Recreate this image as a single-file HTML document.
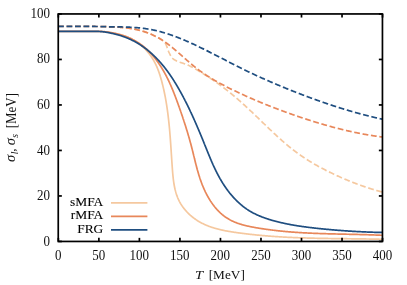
<!DOCTYPE html><html><head><meta charset="utf-8"><style>
html,body{margin:0;padding:0;background:#fff;}
#w{position:relative;width:407px;height:285px;overflow:hidden;background:#fff;font-family:"Liberation Serif",serif;font-size:13px;color:#111;}
.t{position:absolute;white-space:nowrap;line-height:1;}
#txt{position:absolute;left:0;top:0;width:407px;height:285px;will-change:transform;}
.s{display:inline-block;transform:scaleY(1.12);transform-origin:50% 50%;}
.yt{text-align:right;width:40px;}
.xt{text-align:center;width:40px;}
</style></head><body><div id="w">
<svg width="407" height="285" viewBox="0 0 407 285" style="position:absolute;left:0;top:0">
<defs><clipPath id="c"><rect x="58.25" y="13.95" width="324.2" height="227.5"/></clipPath></defs>
<g clip-path="url(#c)" fill="none" stroke-width="1.7" stroke-linejoin="round">
<path d="M105.27,31.78 L105.28,31.78 L105.78,31.84 L106.27,31.90 L106.77,31.96 L107.27,32.03 L107.77,32.10 L108.27,32.18 L108.77,32.25 L109.26,32.33 L109.76,32.42 L110.26,32.50 L110.76,32.59 L111.25,32.67 L111.75,32.76 L112.24,32.84 L112.74,32.93 L113.23,33.02 L113.73,33.11 L114.22,33.20 L114.71,33.30 L115.21,33.40 L115.70,33.51 L116.19,33.61 L116.68,33.72 L117.17,33.84 L117.65,33.95 L118.14,34.07 L118.63,34.20 L119.11,34.32 L119.60,34.45 L120.08,34.58 L120.56,34.72 L121.04,34.86 L121.52,35.00 L122.00,35.15 L122.48,35.30 L122.95,35.45 L123.43,35.61 L123.90,35.77 L124.37,35.93 L124.84,36.10 L125.31,36.27 L125.78,36.44 L126.24,36.62 L126.70,36.80 L127.17,36.99 L127.63,37.18 L128.09,37.37 L128.54,37.57 L129.00,37.77 L129.45,37.97 L129.90,38.18 L130.35,38.39 L130.80,38.61 L131.24,38.83 L131.69,39.06 L132.13,39.29 L132.57,39.52 L133.00,39.76 L133.44,40.00 L133.87,40.24 L134.30,40.49 L134.73,40.75 L135.15,41.01 L135.58,41.27 L136.00,41.54 L136.41,41.81 L136.83,42.09 L137.24,42.37 L137.65,42.65 L138.06,42.94 L138.46,43.24 L138.87,43.54 L139.27,43.84 L139.66,44.15 L140.06,44.46 L140.45,44.77 L140.84,45.09 L141.22,45.42 L141.60,45.74 L141.98,46.07 L142.36,46.41 L142.73,46.75 L143.10,47.09 L143.47,47.44 L143.84,47.79 L144.20,48.14 L144.56,48.50 L144.91,48.86 L145.26,49.22 L145.61,49.59 L145.96,49.96 L146.30,50.33 L146.64,50.71 L146.97,51.08 L147.30,51.47 L147.63,51.85 L147.96,52.24 L148.28,52.63 L148.60,53.02 L148.91,53.42 L149.22,53.82 L149.53,54.22 L149.83,54.62 L150.13,55.03 L150.43,55.44 L150.72,55.85 L151.01,56.26 L151.30,56.68 L151.58,57.09 L151.86,57.51 L152.13,57.94 L152.40,58.36 L152.66,58.79 L152.93,59.21 L153.18,59.64 L153.44,60.07 L153.69,60.50 L153.93,60.94 L154.17,61.37 L154.41,61.81 L154.65,62.25 L154.88,62.69 L155.10,63.13 L155.33,63.58 L155.55,64.02 L155.76,64.47 L155.97,64.92 L156.18,65.36 L156.39,65.82 L156.59,66.27 L156.79,66.72 L156.99,67.17 L157.18,67.63 L157.37,68.09 L157.56,68.55 L157.74,69.01 L157.92,69.47 L158.10,69.93 L158.28,70.39 L158.45,70.85 L158.62,71.32 L158.79,71.79 L158.96,72.25 L159.12,72.72 L159.28,73.19 L159.44,73.66 L159.59,74.13 L159.75,74.60 L159.90,75.08 L160.05,75.55 L160.20,76.02 L160.34,76.50 L160.49,76.97 L160.63,77.45 L160.77,77.93 L160.91,78.41 L161.05,78.89 L161.18,79.37 L161.32,79.85 L161.45,80.33 L161.58,80.81 L161.71,81.29 L161.84,81.77 L161.96,82.25 L162.09,82.74 L162.21,83.22 L162.34,83.71 L162.46,84.19 L162.58,84.68 L162.70,85.16 L162.82,85.65 L162.94,86.13 L163.05,86.62 L163.17,87.11 L163.28,87.60 L163.40,88.08 L163.51,88.57 L163.62,89.06 L163.73,89.55 L163.84,90.04 L163.94,90.53 L164.05,91.02 L164.16,91.51 L164.26,92.00 L164.36,92.50 L164.46,92.99 L164.57,93.48 L164.67,93.97 L164.76,94.46 L164.86,94.96 L164.96,95.45 L165.05,95.94 L165.15,96.44 L165.24,96.93 L165.34,97.43 L165.43,97.92 L165.52,98.42 L165.61,98.91 L165.70,99.41 L165.78,99.90 L165.87,100.40 L165.96,100.90 L166.04,101.39 L166.13,101.89 L166.21,102.38 L166.29,102.88 L166.37,103.38 L166.45,103.88 L166.53,104.37 L166.61,104.87 L166.69,105.37 L166.77,105.87 L166.84,106.36 L166.92,106.86 L166.99,107.36 L167.07,107.86 L167.14,108.36 L167.21,108.85 L167.28,109.35 L167.35,109.85 L167.42,110.35 L167.49,110.85 L167.56,111.35 L167.62,111.85 L167.69,112.34 L167.76,112.84 L167.82,113.34 L167.89,113.84 L167.95,114.34 L168.01,114.84 L168.07,115.34 L168.13,115.84 L168.20,116.33 L168.25,116.83 L168.31,117.33 L168.37,117.83 L168.43,118.33 L168.49,118.83 L168.54,119.32 L168.60,119.82 L168.65,120.32 L168.71,120.82 L168.76,121.32 L168.82,121.81 L168.87,122.31 L168.92,122.81 L168.97,123.31 L169.02,123.80 L169.07,124.30 L169.12,124.80 L169.17,125.30 L169.22,125.79 L169.27,126.29 L169.31,126.78 L169.36,127.28 L169.41,127.78 L169.45,128.27 L169.50,128.77 L169.54,129.26 L169.59,129.76 L169.63,130.25 L169.67,130.75 L169.72,131.24 L169.76,131.74 L169.80,132.23 L169.84,132.73 L169.88,133.22 L169.92,133.72 L169.96,134.21 L170.00,134.70 L170.04,135.20 L170.08,135.69 L170.12,136.19 L170.16,136.68 L170.20,137.17 L170.23,137.67 L170.27,138.16 L170.31,138.66 L170.35,139.15 L170.38,139.64 L170.42,140.14 L170.45,140.63 L170.49,141.13 L170.53,141.62 L170.56,142.11 L170.60,142.61 L170.63,143.10 L170.66,143.60 L170.70,144.09 L170.73,144.58 L170.77,145.08 L170.80,145.57 L170.83,146.07 L170.87,146.56 L170.90,147.06 L170.93,147.55 L170.97,148.05 L171.00,148.54 L171.03,149.04 L171.07,149.53 L171.10,150.03 L171.13,150.53 L171.16,151.02 L171.20,151.52 L171.23,152.01 L171.26,152.51 L171.29,153.01 L171.33,153.51 L171.36,154.00 L171.39,154.50 L171.42,155.00 L171.46,155.50 L171.49,155.99 L171.52,156.49 L171.55,156.99 L171.59,157.49 L171.62,157.99 L171.65,158.49 L171.69,158.99 L171.72,159.49 L171.75,159.99 L171.79,160.49 L171.82,160.99 L171.85,161.49 L171.89,162.00 L171.92,162.50 L171.95,163.00 L171.99,163.50 L172.02,164.01 L172.06,164.51 L172.09,165.01 L172.13,165.52 L172.16,166.02 L172.20,166.53 L172.24,167.04 L172.27,167.54 L172.31,168.05 L172.35,168.55 L172.38,169.06 L172.42,169.57 L172.46,170.08 L172.50,170.59 L172.54,171.09 L172.58,171.60 L172.62,172.11 L172.66,172.62 L172.70,173.13 L172.75,173.64 L172.79,174.15 L172.84,174.66 L172.89,175.17 L172.94,175.67 L172.99,176.18 L173.04,176.69 L173.09,177.20 L173.15,177.71 L173.20,178.21 L173.26,178.72 L173.32,179.23 L173.38,179.73 L173.45,180.24 L173.51,180.74 L173.58,181.24 L173.65,181.75 L173.72,182.25 L173.80,182.75 L173.88,183.25 L173.96,183.75 L174.04,184.25 L174.12,184.75 L174.21,185.25 L174.30,185.74 L174.40,186.24 L174.49,186.73 L174.59,187.23 L174.69,187.72 L174.80,188.21 L174.91,188.70 L175.02,189.19 L175.14,189.67 L175.26,190.16 L175.38,190.64 L175.50,191.13 L175.63,191.61 L175.77,192.09 L175.90,192.57 L176.05,193.04 L176.19,193.52 L176.34,193.99 L176.49,194.46 L176.65,194.93 L176.81,195.40 L176.98,195.86 L177.15,196.33 L177.32,196.79 L177.50,197.25 L177.69,197.70 L177.87,198.16 L178.07,198.61 L178.27,199.06 L178.47,199.51 L178.68,199.96 L178.89,200.40 L179.11,200.85 L179.33,201.29 L179.56,201.72 L179.79,202.16 L180.03,202.59 L180.27,203.02 L180.52,203.45 L180.78,203.87 L181.03,204.29 L181.30,204.71 L181.57,205.13 L181.84,205.54 L182.11,205.95 L182.40,206.36 L182.68,206.77 L182.97,207.17 L183.27,207.57 L183.57,207.97 L183.87,208.36 L184.18,208.75 L184.49,209.14 L184.81,209.53 L185.13,209.91 L185.45,210.29 L185.78,210.67 L186.11,211.04 L186.45,211.41 L186.78,211.78 L187.13,212.14 L187.47,212.51 L187.82,212.86 L188.18,213.22 L188.54,213.57 L188.90,213.92 L189.26,214.26 L189.63,214.60 L190.00,214.94 L190.37,215.28 L190.75,215.61 L191.13,215.94 L191.51,216.26 L191.90,216.58 L192.29,216.90 L192.68,217.21 L193.07,217.52 L193.47,217.83 L193.87,218.13 L194.27,218.43 L194.68,218.73 L195.09,219.02 L195.50,219.31 L195.91,219.59 L196.32,219.87 L196.74,220.15 L197.16,220.42 L197.58,220.69 L198.00,220.96 L198.43,221.22 L198.86,221.47 L199.28,221.73 L199.72,221.98 L200.15,222.22 L200.58,222.46 L201.02,222.70 L201.46,222.93 L201.90,223.16 L202.34,223.39 L202.79,223.61 L203.23,223.83 L203.68,224.05 L204.13,224.26 L204.58,224.47 L205.03,224.67 L205.48,224.87 L205.94,225.07 L206.39,225.27 L206.85,225.46 L207.31,225.65 L207.77,225.83 L208.23,226.01 L208.70,226.19 L209.16,226.37 L209.63,226.54 L210.10,226.71 L210.57,226.87 L211.04,227.04 L211.51,227.20 L211.98,227.36 L212.45,227.51 L212.93,227.66 L213.41,227.81 L213.88,227.96 L214.36,228.11 L214.84,228.25 L215.32,228.39 L215.80,228.52 L216.29,228.66 L216.77,228.79 L217.25,228.92 L217.74,229.05 L218.22,229.17 L218.71,229.30 L219.20,229.42 L219.69,229.53 L220.18,229.65 L220.67,229.77 L221.16,229.88 L221.65,229.99 L222.14,230.10 L222.63,230.20 L223.13,230.31 L223.62,230.41 L224.12,230.51 L224.61,230.61 L225.11,230.71 L225.60,230.80 L226.10,230.90 L226.60,230.99 L227.10,231.08 L227.59,231.17 L228.09,231.26 L228.59,231.35 L229.09,231.43 L229.59,231.52 L230.09,231.60 L230.59,231.68 L231.09,231.77 L231.59,231.84 L232.09,231.92 L232.59,232.00 L233.09,232.08 L233.59,232.15 L234.10,232.23 L234.60,232.30 L235.10,232.38 L235.60,232.45 L236.10,232.52 L236.60,232.59 L237.10,232.66 L237.60,232.73 L238.10,232.80 L238.60,232.87 L239.10,232.93 L239.61,233.00 L240.11,233.07 L240.61,233.13 L241.11,233.20 L241.61,233.27 L242.11,233.33 L242.60,233.39 L243.10,233.46 L243.60,233.52 L244.10,233.58 L244.60,233.64 L245.10,233.71 L245.60,233.77 L246.10,233.83 L246.60,233.89 L247.10,233.95 L247.60,234.01 L248.09,234.06 L248.59,234.12 L249.09,234.18 L249.59,234.24 L250.09,234.29 L250.59,234.35 L251.08,234.40 L251.58,234.46 L252.08,234.51 L252.58,234.57 L253.07,234.62 L253.57,234.67 L254.07,234.72 L254.57,234.78 L255.06,234.83 L255.56,234.88 L256.06,234.93 L256.56,234.98 L257.05,235.03 L257.55,235.08 L258.05,235.12 L258.54,235.17 L259.04,235.22 L259.54,235.27 L260.04,235.31 L260.53,235.36 L261.03,235.41 L261.53,235.45 L262.02,235.50 L262.52,235.54 L263.02,235.58 L263.51,235.63 L264.01,235.67 L264.51,235.71 L265.00,235.76 L265.50,235.80 L265.99,235.84 L266.49,235.88 L266.99,235.92 L267.48,235.96 L267.98,236.00 L268.48,236.04 L268.97,236.08 L269.47,236.12 L269.97,236.16 L270.46,236.19 L270.96,236.23 L271.45,236.27 L271.95,236.30 L272.45,236.34 L272.94,236.38 L273.44,236.41 L273.94,236.45 L274.43,236.48 L274.93,236.51 L275.42,236.55 L275.92,236.58 L276.42,236.61 L276.91,236.65 L277.41,236.68 L277.91,236.71 L278.40,236.74 L278.90,236.77 L279.40,236.80 L279.89,236.84 L280.39,236.87 L280.89,236.89 L281.38,236.92 L281.88,236.95 L282.38,236.98 L282.87,237.01 L283.37,237.04 L283.87,237.07 L284.36,237.09 L284.86,237.12 L285.36,237.15 L285.85,237.17 L286.35,237.20 L286.85,237.23 L287.34,237.25 L287.84,237.28 L288.34,237.30 L288.84,237.33 L289.33,237.35 L289.83,237.37 L290.33,237.40 L290.83,237.42 L291.32,237.44 L291.82,237.47 L292.32,237.49 L292.82,237.51 L293.32,237.53 L293.81,237.55 L294.31,237.57 L294.81,237.59 L295.31,237.62 L295.81,237.64 L296.31,237.66 L296.80,237.68 L297.30,237.69 L297.80,237.71 L298.30,237.73 L298.80,237.75 L299.30,237.77 L299.80,237.79 L300.30,237.81 L300.80,237.82 L301.30,237.84 L301.80,237.86 L302.30,237.88 L302.80,237.89 L303.30,237.91 L303.80,237.92 L304.30,237.94 L304.80,237.96 L305.30,237.97 L305.80,237.99 L306.30,238.00 L306.80,238.02 L307.30,238.03 L307.80,238.05 L308.30,238.06 L308.80,238.07 L309.30,238.09 L309.80,238.10 L310.30,238.11 L310.80,238.13 L311.31,238.14 L311.81,238.15 L312.31,238.17 L312.81,238.18 L313.31,238.19 L313.81,238.20 L314.31,238.21 L314.81,238.23 L315.32,238.24 L315.82,238.25 L316.32,238.26 L316.82,238.27 L317.32,238.28 L317.82,238.29 L318.33,238.30 L318.83,238.31 L319.33,238.32 L319.83,238.33 L320.33,238.34 L320.84,238.35 L321.34,238.36 L321.84,238.37 L322.34,238.38 L322.85,238.39 L323.35,238.40 L323.85,238.41 L324.35,238.42 L324.85,238.43 L325.36,238.43 L325.86,238.44 L326.36,238.45 L326.86,238.46 L327.37,238.47 L327.87,238.47 L328.37,238.48 L328.87,238.49 L329.38,238.50 L329.88,238.51 L330.38,238.51 L330.88,238.52 L331.39,238.53 L331.89,238.53 L332.39,238.54 L332.89,238.55 L333.40,238.56 L333.90,238.56 L334.40,238.57 L334.91,238.58 L335.41,238.58 L335.91,238.59 L336.41,238.60 L336.92,238.60 L337.42,238.61 L337.92,238.62 L338.42,238.62 L338.93,238.63 L339.43,238.63 L339.93,238.64 L340.43,238.65 L340.94,238.65 L341.44,238.66 L341.94,238.67 L342.44,238.67 L342.95,238.68 L343.45,238.68 L343.95,238.69 L344.45,238.70 L344.95,238.70 L345.46,238.71 L345.96,238.71 L346.46,238.72 L346.96,238.72 L347.47,238.73 L347.97,238.74 L348.47,238.74 L348.97,238.75 L349.47,238.75 L349.98,238.76 L350.48,238.77 L350.98,238.77 L351.48,238.78 L351.98,238.78 L352.49,238.79 L352.99,238.80 L353.49,238.80 L353.99,238.81 L354.49,238.81 L354.99,238.82 L355.49,238.83 L356.00,238.83 L356.50,238.84 L357.00,238.85 L357.50,238.85 L358.00,238.86 L358.50,238.87 L359.00,238.87 L359.50,238.88 L360.00,238.89 L360.50,238.89 L361.01,238.90 L361.51,238.91 L362.01,238.91 L362.51,238.92 L363.01,238.93 L363.51,238.94 L364.01,238.94 L364.51,238.95 L365.01,238.96 L365.51,238.97 L366.01,238.97 L366.51,238.98 L367.01,238.99 L367.51,239.00 L368.01,239.01 L368.51,239.01 L369.01,239.02 L369.50,239.03 L370.00,239.04 L370.50,239.05 L371.00,239.06 L371.50,239.07 L372.00,239.08 L372.50,239.09 L373.00,239.09 L373.49,239.10 L373.99,239.11 L374.49,239.12 L374.99,239.13 L375.49,239.14 L375.99,239.15 L376.48,239.17 L376.98,239.18 L377.48,239.19 L377.98,239.20 L378.47,239.21 L378.97,239.22 L379.47,239.23 L379.96,239.24 L380.46,239.26 L380.96,239.27 L381.45,239.28 L381.95,239.29 L382.45,239.30 L384.45,239.30" stroke="#f5c89f"/>
<path d="M105.24,26.69 L105.25,26.69 L105.75,26.71 L106.25,26.72 L106.75,26.73 L107.25,26.75 L107.75,26.76 L108.25,26.78 L108.75,26.79 L109.25,26.81 L109.75,26.82 L110.25,26.83 L110.75,26.85 L111.25,26.86 L111.75,26.87 L112.25,26.89 L112.75,26.90 L113.25,26.92 L113.75,26.93 L114.25,26.95 L114.75,26.97 L115.25,26.99 L115.75,27.01 L116.25,27.04 L116.75,27.06 L117.25,27.09 L117.75,27.12 L118.25,27.16 L118.75,27.19 L119.25,27.22 L119.75,27.26 L120.25,27.30 L120.75,27.34 L121.25,27.39 L121.75,27.43 L122.25,27.48 L122.75,27.53 L123.25,27.58 L123.75,27.63 L124.25,27.68 L124.75,27.73 L125.25,27.78 L125.75,27.84 L126.25,27.89 L126.75,27.95 L127.25,28.01 L127.75,28.08 L128.25,28.14 L128.75,28.21 L129.25,28.28 L129.75,28.35 L130.25,28.42 L130.75,28.50 L131.25,28.58 L131.75,28.66 L132.25,28.75 L132.75,28.83 L133.25,28.92 L133.75,29.02 L134.25,29.11 L134.75,29.21 L135.25,29.31 L135.75,29.41 L136.25,29.52 L136.75,29.63 L137.25,29.74 L137.75,29.86 L138.25,29.98 L138.75,30.10 L139.25,30.23 L139.75,30.35 L140.25,30.49 L140.75,30.62 L141.25,30.76 L141.75,30.90 L142.25,31.05 L142.75,31.20 L143.25,31.35 L143.75,31.50 L144.25,31.66 L144.75,31.83 L145.25,31.99 L145.75,32.16 L146.25,32.34 L146.75,32.51 L147.25,32.70 L147.75,32.88 L148.25,33.07 L148.75,33.27 L149.25,33.46 L149.75,33.66 L150.25,33.87 L150.75,34.08 L151.25,34.29 L151.75,34.51 L152.25,34.73 L152.75,34.96 L153.25,35.19 L153.75,35.43 L154.25,35.67 L154.75,35.91 L155.25,36.16 L155.75,36.41 L156.25,36.67 L156.75,36.93 L157.25,37.20 L157.75,37.47 L158.25,37.75 L158.75,38.03 L159.25,38.32 L159.75,38.61 L160.25,38.90 L160.75,39.21 L161.25,39.51 L161.75,39.82 L162.28,40.23 L162.67,40.55 L163.06,40.87 L163.43,41.21 L163.80,41.56 L164.16,41.92 L164.50,42.29 L164.82,42.67 L165.11,43.06 L165.38,43.46 L165.64,43.87 L165.87,44.29 L166.08,44.73 L166.28,45.17 L166.47,45.63 L166.65,46.10 L166.82,46.57 L166.99,47.05 L167.15,47.53 L167.31,48.02 L167.47,48.51 L167.64,48.99 L167.81,49.47 L167.98,49.95 L168.16,50.43 L168.35,50.90 L168.55,51.36 L168.75,51.83 L168.96,52.29 L169.17,52.76 L169.39,53.23 L169.62,53.69 L169.84,54.16 L170.08,54.62 L170.32,55.07 L170.56,55.52 L170.82,55.95 L171.08,56.38 L171.35,56.79 L171.63,57.18 L171.93,57.56 L172.24,57.92 L172.56,58.27 L172.91,58.60 L173.27,58.93 L173.66,59.24 L174.06,59.53 L174.47,59.82 L174.90,60.10 L175.34,60.36 L175.79,60.61 L176.24,60.85 L176.69,61.08 L177.15,61.29 L177.61,61.49 L178.07,61.67 L178.53,61.84 L179.01,62.01 L179.48,62.16 L179.96,62.31 L180.44,62.46 L180.93,62.60 L181.41,62.75 L181.89,62.90 L182.37,63.05 L182.85,63.20 L183.33,63.36 L183.80,63.52 L184.28,63.69 L184.75,63.86 L185.22,64.04 L185.69,64.21 L186.16,64.39 L186.63,64.57 L187.09,64.76 L187.56,64.95 L188.02,65.14 L188.48,65.34 L188.93,65.55 L189.39,65.75 L189.84,65.97 L190.29,66.19 L190.73,66.42 L191.18,66.65 L191.62,66.88 L192.06,67.12 L192.50,67.36 L192.94,67.61 L193.38,67.85 L193.81,68.10 L194.25,68.35 L194.69,68.60 L195.12,68.85 L195.55,69.10 L195.98,69.36 L196.42,69.61 L196.85,69.87 L197.28,70.12 L197.71,70.38 L198.00,70.56 L198.50,70.85 L199.00,71.15 L199.50,71.45 L200.00,71.75 L200.50,72.06 L201.00,72.36 L201.50,72.66 L202.00,72.97 L202.50,73.27 L203.00,73.58 L203.50,73.89 L204.00,74.20 L204.50,74.51 L205.00,74.82 L205.50,75.14 L206.00,75.45 L206.50,75.77 L207.00,76.08 L207.50,76.40 L208.00,76.72 L208.50,77.05 L209.00,77.37 L209.50,77.70 L210.00,78.02 L210.50,78.35 L211.00,78.68 L211.50,79.02 L212.00,79.35 L212.50,79.69 L213.00,80.02 L213.50,80.36 L214.00,80.71 L214.50,81.05 L215.00,81.40 L215.50,81.74 L216.00,82.09 L216.50,82.45 L217.00,82.80 L217.50,83.16 L218.00,83.51 L218.50,83.87 L219.00,84.24 L219.50,84.60 L220.00,84.97 L220.50,85.33 L221.00,85.70 L221.50,86.08 L222.00,86.45 L222.50,86.83 L223.00,87.21 L223.50,87.59 L224.00,87.97 L224.50,88.35 L225.00,88.74 L225.50,89.12 L226.00,89.51 L226.50,89.91 L227.00,90.30 L227.50,90.69 L228.00,91.09 L228.50,91.49 L229.00,91.89 L229.50,92.29 L230.00,92.70 L230.50,93.11 L231.00,93.51 L231.50,93.92 L232.00,94.34 L232.50,94.75 L233.00,95.16 L233.50,95.58 L234.00,96.00 L234.50,96.42 L235.00,96.84 L235.50,97.27 L236.00,97.70 L236.50,98.12 L237.00,98.55 L237.50,98.98 L238.00,99.42 L238.50,99.85 L239.00,100.29 L239.50,100.73 L240.00,101.17 L240.50,101.61 L241.00,102.05 L241.50,102.50 L242.00,102.94 L242.50,103.39 L243.00,103.84 L243.50,104.29 L244.00,104.75 L244.50,105.20 L245.00,105.66 L245.50,106.12 L246.00,106.58 L246.50,107.04 L247.00,107.50 L247.50,107.96 L248.00,108.43 L248.50,108.90 L249.00,109.37 L249.50,109.83 L250.00,110.31 L250.50,110.78 L251.00,111.25 L251.50,111.72 L252.00,112.20 L252.50,112.67 L253.00,113.15 L253.50,113.63 L254.00,114.11 L254.50,114.58 L255.00,115.06 L255.50,115.54 L256.00,116.02 L256.50,116.51 L257.00,116.99 L257.50,117.47 L258.00,117.95 L258.50,118.44 L259.00,118.92 L259.50,119.40 L260.00,119.89 L260.50,120.37 L261.00,120.85 L261.50,121.34 L262.00,121.82 L262.50,122.30 L263.00,122.79 L263.50,123.27 L264.00,123.75 L264.50,124.24 L265.00,124.72 L265.50,125.20 L266.00,125.68 L266.50,126.17 L267.00,126.65 L267.50,127.13 L268.00,127.61 L268.50,128.09 L269.00,128.57 L269.50,129.04 L270.00,129.52 L270.50,130.00 L271.00,130.47 L271.50,130.95 L272.00,131.42 L272.50,131.89 L273.00,132.36 L273.50,132.83 L274.00,133.30 L274.50,133.77 L275.00,134.24 L275.50,134.70 L276.00,135.16 L276.50,135.63 L277.00,136.09 L277.50,136.55 L278.00,137.00 L278.50,137.46 L279.00,137.91 L279.50,138.37 L280.00,138.82 L280.50,139.26 L281.00,139.71 L281.50,140.16 L282.00,140.60 L282.50,141.04 L283.00,141.48 L283.50,141.92 L284.00,142.35 L284.50,142.78 L285.00,143.21 L285.50,143.64 L286.00,144.07 L286.50,144.49 L287.00,144.91 L287.50,145.33 L288.00,145.74 L288.50,146.16 L289.00,146.57 L289.50,146.97 L290.00,147.38 L290.50,147.78 L291.00,148.18 L291.50,148.58 L292.00,148.97 L292.50,149.36 L293.00,149.75 L293.50,150.13 L294.00,150.52 L294.50,150.90 L295.00,151.27 L295.50,151.65 L296.00,152.02 L296.50,152.39 L297.00,152.76 L297.50,153.12 L298.00,153.48 L298.50,153.84 L299.00,154.20 L299.50,154.55 L300.00,154.91 L300.50,155.26 L301.00,155.60 L301.50,155.95 L302.00,156.29 L302.50,156.63 L303.00,156.97 L303.50,157.31 L304.00,157.64 L304.50,157.97 L305.00,158.30 L305.50,158.63 L306.00,158.95 L306.50,159.27 L307.00,159.59 L307.50,159.91 L308.00,160.23 L308.50,160.54 L309.00,160.85 L309.50,161.16 L310.00,161.47 L310.50,161.78 L311.00,162.08 L311.50,162.38 L312.00,162.68 L312.50,162.98 L313.00,163.28 L313.50,163.57 L314.00,163.86 L314.50,164.15 L315.00,164.44 L315.50,164.73 L316.00,165.02 L316.50,165.30 L317.00,165.58 L317.50,165.86 L318.00,166.14 L318.50,166.41 L319.00,166.69 L319.50,166.96 L320.00,167.23 L320.50,167.51 L321.00,167.77 L321.50,168.04 L322.00,168.31 L322.50,168.57 L323.00,168.83 L323.50,169.09 L324.00,169.35 L324.50,169.61 L325.00,169.87 L325.50,170.12 L326.00,170.38 L326.50,170.63 L327.00,170.88 L327.50,171.13 L328.00,171.38 L328.50,171.63 L329.00,171.87 L329.50,172.12 L330.00,172.36 L330.50,172.60 L331.00,172.85 L331.50,173.09 L332.00,173.32 L332.50,173.56 L333.00,173.80 L333.50,174.04 L334.00,174.27 L334.50,174.50 L335.00,174.74 L335.50,174.97 L336.00,175.20 L336.50,175.43 L337.00,175.66 L337.50,175.89 L338.00,176.11 L338.50,176.34 L339.00,176.56 L339.50,176.79 L340.00,177.01 L340.50,177.23 L341.00,177.45 L341.50,177.67 L342.00,177.89 L342.50,178.11 L343.00,178.33 L343.50,178.54 L344.00,178.76 L344.50,178.97 L345.00,179.18 L345.50,179.40 L346.00,179.61 L346.50,179.82 L347.00,180.02 L347.50,180.23 L348.00,180.44 L348.50,180.64 L349.00,180.85 L349.50,181.05 L350.00,181.26 L350.50,181.46 L351.00,181.66 L351.50,181.86 L352.00,182.06 L352.50,182.25 L353.00,182.45 L353.50,182.64 L354.00,182.84 L354.50,183.03 L355.00,183.22 L355.50,183.41 L356.00,183.60 L356.50,183.79 L357.00,183.98 L357.50,184.17 L358.00,184.35 L358.50,184.54 L359.00,184.72 L359.50,184.90 L360.00,185.09 L360.50,185.27 L361.00,185.45 L361.50,185.62 L362.00,185.80 L362.50,185.98 L363.00,186.15 L363.50,186.33 L364.00,186.50 L364.50,186.67 L365.00,186.84 L365.50,187.01 L366.00,187.18 L366.50,187.35 L367.00,187.51 L367.50,187.68 L368.00,187.84 L368.50,188.01 L369.00,188.17 L369.50,188.33 L370.00,188.49 L370.50,188.65 L371.00,188.80 L371.50,188.96 L372.00,189.12 L372.50,189.27 L373.00,189.42 L373.50,189.57 L374.00,189.72 L374.50,189.87 L375.00,190.02 L375.50,190.17 L376.00,190.32 L376.50,190.46 L377.00,190.61 L377.50,190.75 L378.00,190.89 L378.50,191.03 L379.00,191.17 L379.50,191.31 L380.00,191.44 L380.50,191.58 L381.00,191.72 L381.50,191.85 L382.00,191.98 L384.45,191.98" stroke="#f5c89f" stroke-dasharray="5.8 2.68" stroke-dashoffset="46.95"/>
<path d="M58.24,31.35 L58.25,31.35 L58.75,31.35 L59.25,31.35 L59.75,31.35 L60.26,31.35 L60.76,31.35 L61.26,31.35 L61.76,31.35 L62.26,31.35 L62.77,31.35 L63.27,31.35 L63.77,31.35 L64.27,31.35 L64.77,31.35 L65.28,31.35 L65.78,31.35 L66.28,31.35 L66.78,31.35 L67.28,31.35 L67.78,31.35 L68.28,31.35 L68.78,31.35 L69.28,31.35 L69.78,31.35 L70.28,31.35 L70.79,31.35 L71.29,31.35 L71.79,31.35 L72.29,31.35 L72.79,31.35 L73.29,31.35 L73.79,31.35 L74.29,31.35 L74.79,31.35 L75.29,31.35 L75.79,31.35 L76.29,31.35 L76.78,31.35 L77.28,31.35 L77.78,31.35 L78.28,31.35 L78.78,31.35 L79.28,31.35 L79.78,31.35 L80.28,31.35 L80.78,31.35 L81.28,31.35 L81.78,31.35 L82.28,31.35 L82.77,31.35 L83.27,31.35 L83.77,31.35 L84.27,31.35 L84.77,31.35 L85.27,31.35 L85.77,31.35 L86.27,31.35 L86.76,31.35 L87.26,31.35 L87.76,31.35 L88.26,31.35 L88.76,31.35 L89.26,31.35 L89.75,31.35 L90.25,31.35 L90.75,31.35 L91.25,31.35 L91.75,31.35 L92.24,31.35 L92.74,31.35 L93.24,31.35 L93.74,31.34 L94.24,31.34 L94.74,31.34 L95.23,31.34 L95.73,31.34 L96.23,31.34 L96.73,31.35 L97.23,31.35 L97.72,31.36 L98.22,31.36 L98.72,31.37 L99.22,31.38 L99.71,31.39 L100.21,31.41 L100.71,31.43 L101.21,31.45 L101.71,31.47 L102.20,31.50 L102.70,31.53 L103.20,31.57 L103.70,31.61 L104.20,31.65 L104.69,31.70 L105.19,31.75 L105.69,31.81 L106.19,31.87 L106.69,31.93 L107.18,32.00 L107.68,32.08 L108.18,32.15 L108.68,32.23 L109.18,32.31 L109.67,32.40 L110.17,32.49 L110.67,32.57 L111.16,32.66 L111.66,32.75 L112.16,32.84 L112.65,32.93 L113.15,33.02 L113.64,33.12 L114.14,33.22 L114.63,33.32 L115.13,33.42 L115.62,33.53 L116.11,33.64 L116.60,33.75 L117.09,33.87 L117.58,33.99 L118.07,34.11 L118.56,34.24 L119.05,34.37 L119.53,34.50 L120.02,34.63 L120.51,34.77 L120.99,34.91 L121.47,35.05 L121.95,35.20 L122.43,35.35 L122.91,35.50 L123.39,35.66 L123.87,35.82 L124.34,35.98 L124.82,36.15 L125.29,36.32 L125.76,36.49 L126.23,36.66 L126.70,36.84 L127.17,37.02 L127.63,37.21 L128.10,37.40 L128.56,37.59 L129.02,37.78 L129.48,37.98 L129.94,38.18 L130.39,38.39 L130.85,38.60 L131.30,38.81 L131.75,39.02 L132.20,39.24 L132.64,39.47 L133.09,39.69 L133.53,39.92 L133.97,40.15 L134.41,40.39 L134.84,40.63 L135.28,40.87 L135.71,41.12 L136.14,41.37 L136.56,41.62 L136.99,41.88 L137.41,42.14 L137.83,42.41 L138.25,42.67 L138.66,42.95 L139.08,43.22 L139.49,43.50 L139.89,43.78 L140.30,44.07 L140.70,44.36 L141.10,44.65 L141.50,44.94 L141.90,45.24 L142.29,45.54 L142.68,45.85 L143.07,46.16 L143.46,46.47 L143.84,46.78 L144.23,47.10 L144.60,47.42 L144.98,47.74 L145.36,48.07 L145.73,48.40 L146.10,48.73 L146.47,49.07 L146.84,49.40 L147.20,49.74 L147.56,50.09 L147.92,50.43 L148.28,50.78 L148.63,51.13 L148.99,51.48 L149.34,51.84 L149.68,52.20 L150.03,52.56 L150.37,52.92 L150.72,53.29 L151.06,53.66 L151.39,54.03 L151.73,54.40 L152.06,54.77 L152.39,55.15 L152.72,55.53 L153.05,55.91 L153.37,56.29 L153.69,56.68 L154.01,57.07 L154.33,57.46 L154.64,57.85 L154.96,58.24 L155.27,58.64 L155.58,59.03 L155.89,59.43 L156.19,59.83 L156.49,60.23 L156.79,60.64 L157.09,61.04 L157.39,61.45 L157.68,61.86 L157.98,62.27 L158.27,62.68 L158.56,63.09 L158.84,63.51 L159.13,63.92 L159.41,64.34 L159.69,64.76 L159.97,65.18 L160.24,65.60 L160.52,66.02 L160.79,66.44 L161.06,66.87 L161.33,67.29 L161.59,67.72 L161.86,68.15 L162.12,68.58 L162.38,69.01 L162.64,69.44 L162.89,69.87 L163.15,70.30 L163.40,70.73 L163.65,71.17 L163.90,71.60 L164.15,72.04 L164.39,72.48 L164.63,72.91 L164.88,73.35 L165.11,73.79 L165.35,74.23 L165.59,74.67 L165.82,75.11 L166.05,75.55 L166.29,75.99 L166.51,76.44 L166.74,76.88 L166.97,77.33 L167.19,77.77 L167.41,78.22 L167.64,78.66 L167.86,79.11 L168.07,79.56 L168.29,80.01 L168.50,80.46 L168.72,80.91 L168.93,81.36 L169.14,81.81 L169.35,82.26 L169.56,82.71 L169.77,83.16 L169.97,83.62 L170.18,84.07 L170.38,84.53 L170.58,84.98 L170.78,85.44 L170.98,85.89 L171.18,86.35 L171.38,86.81 L171.57,87.26 L171.77,87.72 L171.96,88.18 L172.15,88.64 L172.34,89.10 L172.54,89.56 L172.72,90.02 L172.91,90.48 L173.10,90.94 L173.29,91.41 L173.47,91.87 L173.66,92.33 L173.84,92.79 L174.03,93.26 L174.21,93.72 L174.39,94.19 L174.57,94.65 L174.75,95.12 L174.93,95.58 L175.11,96.05 L175.29,96.51 L175.46,96.98 L175.64,97.45 L175.81,97.91 L175.99,98.38 L176.16,98.85 L176.34,99.32 L176.51,99.78 L176.69,100.25 L176.86,100.72 L177.03,101.19 L177.20,101.66 L177.37,102.13 L177.54,102.60 L177.71,103.07 L177.88,103.54 L178.05,104.01 L178.22,104.48 L178.39,104.95 L178.56,105.42 L178.73,105.89 L178.90,106.36 L179.07,106.83 L179.23,107.31 L179.40,107.78 L179.57,108.25 L179.73,108.72 L179.90,109.19 L180.07,109.67 L180.23,110.14 L180.40,110.61 L180.56,111.08 L180.72,111.56 L180.89,112.03 L181.05,112.50 L181.22,112.98 L181.38,113.45 L181.54,113.92 L181.70,114.40 L181.86,114.87 L182.03,115.35 L182.19,115.82 L182.35,116.30 L182.51,116.77 L182.67,117.25 L182.83,117.72 L182.98,118.20 L183.14,118.67 L183.30,119.15 L183.46,119.62 L183.62,120.10 L183.77,120.58 L183.93,121.05 L184.08,121.53 L184.24,122.00 L184.39,122.48 L184.55,122.96 L184.70,123.43 L184.86,123.91 L185.01,124.39 L185.16,124.87 L185.31,125.34 L185.46,125.82 L185.62,126.30 L185.77,126.78 L185.92,127.26 L186.07,127.73 L186.21,128.21 L186.36,128.69 L186.51,129.17 L186.66,129.65 L186.81,130.13 L186.95,130.61 L187.10,131.09 L187.24,131.56 L187.39,132.04 L187.53,132.52 L187.68,133.00 L187.82,133.48 L187.96,133.96 L188.10,134.44 L188.24,134.92 L188.39,135.40 L188.53,135.88 L188.67,136.37 L188.80,136.85 L188.94,137.33 L189.08,137.81 L189.22,138.29 L189.36,138.77 L189.49,139.25 L189.63,139.73 L189.76,140.21 L189.90,140.70 L190.03,141.18 L190.16,141.66 L190.30,142.14 L190.43,142.62 L190.56,143.11 L190.69,143.59 L190.82,144.07 L190.95,144.55 L191.08,145.04 L191.21,145.52 L191.33,146.00 L191.46,146.49 L191.59,146.97 L191.71,147.45 L191.84,147.94 L191.96,148.42 L192.08,148.90 L192.21,149.39 L192.33,149.87 L192.45,150.35 L192.57,150.84 L192.69,151.32 L192.81,151.81 L192.93,152.29 L193.05,152.77 L193.17,153.26 L193.29,153.74 L193.41,154.23 L193.53,154.71 L193.65,155.19 L193.76,155.68 L193.88,156.16 L194.00,156.65 L194.12,157.13 L194.24,157.61 L194.36,158.10 L194.48,158.58 L194.59,159.07 L194.71,159.55 L194.83,160.03 L194.95,160.52 L195.07,161.00 L195.19,161.48 L195.31,161.97 L195.43,162.45 L195.55,162.93 L195.68,163.42 L195.80,163.90 L195.92,164.38 L196.05,164.86 L196.17,165.34 L196.29,165.83 L196.42,166.31 L196.55,166.79 L196.67,167.27 L196.80,167.75 L196.93,168.23 L197.06,168.71 L197.19,169.19 L197.32,169.68 L197.46,170.16 L197.59,170.63 L197.73,171.11 L197.86,171.59 L198.00,172.07 L198.14,172.55 L198.28,173.03 L198.42,173.51 L198.56,173.98 L198.71,174.46 L198.85,174.94 L199.00,175.42 L199.15,175.89 L199.30,176.37 L199.45,176.84 L199.60,177.32 L199.76,177.79 L199.91,178.27 L200.07,178.74 L200.23,179.22 L200.39,179.69 L200.56,180.16 L200.72,180.63 L200.89,181.11 L201.06,181.58 L201.23,182.05 L201.40,182.52 L201.58,182.99 L201.76,183.46 L201.94,183.93 L202.12,184.40 L202.30,184.87 L202.49,185.33 L202.68,185.80 L202.87,186.27 L203.06,186.73 L203.26,187.20 L203.46,187.66 L203.66,188.13 L203.86,188.59 L204.07,189.06 L204.28,189.52 L204.49,189.98 L204.70,190.44 L204.91,190.90 L205.13,191.36 L205.35,191.82 L205.58,192.27 L205.80,192.73 L206.03,193.18 L206.26,193.64 L206.49,194.09 L206.73,194.54 L206.97,194.99 L207.21,195.44 L207.45,195.88 L207.70,196.33 L207.95,196.77 L208.20,197.21 L208.45,197.65 L208.71,198.09 L208.97,198.53 L209.23,198.96 L209.49,199.39 L209.76,199.83 L210.03,200.25 L210.30,200.68 L210.57,201.11 L210.85,201.53 L211.13,201.95 L211.41,202.37 L211.70,202.78 L211.99,203.20 L212.28,203.61 L212.57,204.02 L212.87,204.42 L213.16,204.83 L213.47,205.23 L213.77,205.63 L214.08,206.02 L214.38,206.42 L214.70,206.81 L215.01,207.20 L215.33,207.58 L215.65,207.96 L215.97,208.34 L216.30,208.72 L216.63,209.09 L216.96,209.46 L217.29,209.83 L217.63,210.19 L217.97,210.55 L218.31,210.91 L218.65,211.26 L219.00,211.61 L219.35,211.96 L219.71,212.30 L220.06,212.64 L220.42,212.97 L220.78,213.31 L221.15,213.63 L221.52,213.96 L221.89,214.28 L222.26,214.60 L222.64,214.91 L223.02,215.22 L223.40,215.52 L223.78,215.82 L224.17,216.12 L224.56,216.41 L224.95,216.70 L225.35,216.98 L225.75,217.26 L226.15,217.54 L226.56,217.81 L226.97,218.07 L227.38,218.34 L227.79,218.59 L228.21,218.84 L228.63,219.09 L229.05,219.34 L229.48,219.57 L229.90,219.81 L230.33,220.04 L230.77,220.26 L231.20,220.49 L231.64,220.70 L232.08,220.92 L232.53,221.13 L232.97,221.33 L233.42,221.53 L233.87,221.73 L234.33,221.93 L234.78,222.12 L235.24,222.30 L235.70,222.49 L236.16,222.66 L236.62,222.84 L237.09,223.01 L237.56,223.18 L238.02,223.35 L238.50,223.51 L238.97,223.67 L239.44,223.83 L239.92,223.98 L240.40,224.13 L240.88,224.28 L241.36,224.42 L241.84,224.56 L242.32,224.70 L242.81,224.84 L243.29,224.97 L243.78,225.10 L244.27,225.23 L244.76,225.36 L245.25,225.48 L245.74,225.60 L246.24,225.72 L246.73,225.84 L247.22,225.96 L247.72,226.07 L248.22,226.18 L248.71,226.29 L249.21,226.40 L249.71,226.50 L250.21,226.61 L250.71,226.71 L251.21,226.81 L251.71,226.91 L252.21,227.00 L252.72,227.10 L253.22,227.19 L253.72,227.29 L254.22,227.38 L254.73,227.47 L255.23,227.56 L255.73,227.65 L256.23,227.73 L256.74,227.82 L257.24,227.90 L257.74,227.99 L258.25,228.07 L258.75,228.16 L259.25,228.24 L259.75,228.32 L260.25,228.40 L260.76,228.48 L261.26,228.56 L261.76,228.64 L262.26,228.71 L262.76,228.79 L263.27,228.86 L263.77,228.94 L264.27,229.01 L264.77,229.09 L265.27,229.16 L265.77,229.23 L266.27,229.30 L266.77,229.37 L267.27,229.44 L267.77,229.51 L268.27,229.58 L268.77,229.65 L269.27,229.71 L269.77,229.78 L270.27,229.84 L270.77,229.91 L271.27,229.97 L271.77,230.03 L272.27,230.10 L272.77,230.16 L273.27,230.22 L273.77,230.28 L274.27,230.34 L274.77,230.40 L275.27,230.46 L275.77,230.51 L276.26,230.57 L276.76,230.63 L277.26,230.68 L277.76,230.74 L278.26,230.79 L278.76,230.84 L279.26,230.90 L279.75,230.95 L280.25,231.00 L280.75,231.05 L281.25,231.10 L281.75,231.15 L282.24,231.20 L282.74,231.25 L283.24,231.30 L283.74,231.35 L284.23,231.39 L284.73,231.44 L285.23,231.49 L285.73,231.53 L286.22,231.58 L286.72,231.62 L287.22,231.66 L287.72,231.71 L288.21,231.75 L288.71,231.79 L289.21,231.83 L289.70,231.87 L290.20,231.91 L290.70,231.95 L291.19,231.99 L291.69,232.03 L292.19,232.07 L292.68,232.11 L293.18,232.14 L293.68,232.18 L294.17,232.22 L294.67,232.25 L295.17,232.29 L295.66,232.32 L296.16,232.36 L296.66,232.39 L297.15,232.42 L297.65,232.46 L298.14,232.49 L298.64,232.52 L299.14,232.55 L299.63,232.58 L300.13,232.61 L300.62,232.64 L301.12,232.67 L301.62,232.70 L302.11,232.73 L302.61,232.76 L303.10,232.79 L303.60,232.82 L304.10,232.84 L304.59,232.87 L305.09,232.90 L305.58,232.92 L306.08,232.95 L306.57,232.97 L307.07,233.00 L307.57,233.02 L308.06,233.05 L308.56,233.07 L309.05,233.10 L309.55,233.12 L310.05,233.14 L310.54,233.16 L311.04,233.19 L311.53,233.21 L312.03,233.23 L312.52,233.25 L313.02,233.27 L313.52,233.29 L314.01,233.31 L314.51,233.33 L315.00,233.35 L315.50,233.37 L315.99,233.39 L316.49,233.41 L316.99,233.43 L317.48,233.45 L317.98,233.47 L318.47,233.48 L318.97,233.50 L319.46,233.52 L319.96,233.54 L320.46,233.55 L320.95,233.57 L321.45,233.59 L321.94,233.60 L322.44,233.62 L322.94,233.63 L323.43,233.65 L323.93,233.66 L324.42,233.68 L324.92,233.69 L325.42,233.71 L325.91,233.72 L326.41,233.74 L326.91,233.75 L327.40,233.77 L327.90,233.78 L328.39,233.79 L328.89,233.81 L329.39,233.82 L329.88,233.83 L330.38,233.85 L330.88,233.86 L331.37,233.87 L331.87,233.89 L332.37,233.90 L332.86,233.91 L333.36,233.92 L333.86,233.93 L334.35,233.95 L334.85,233.96 L335.35,233.97 L335.85,233.98 L336.34,233.99 L336.84,234.01 L337.34,234.02 L337.83,234.03 L338.33,234.04 L338.83,234.05 L339.33,234.06 L339.82,234.07 L340.32,234.08 L340.82,234.10 L341.32,234.11 L341.82,234.12 L342.31,234.13 L342.81,234.14 L343.31,234.15 L343.81,234.16 L344.31,234.17 L344.80,234.18 L345.30,234.19 L345.80,234.21 L346.30,234.22 L346.80,234.23 L347.30,234.24 L347.80,234.25 L348.30,234.26 L348.79,234.27 L349.29,234.28 L349.79,234.29 L350.29,234.30 L350.79,234.31 L351.29,234.33 L351.79,234.34 L352.29,234.35 L352.79,234.36 L353.29,234.37 L353.79,234.38 L354.29,234.39 L354.79,234.41 L355.29,234.42 L355.79,234.43 L356.29,234.44 L356.79,234.45 L357.29,234.47 L357.79,234.48 L358.29,234.49 L358.79,234.50 L359.30,234.52 L359.80,234.53 L360.30,234.54 L360.80,234.55 L361.30,234.57 L361.80,234.58 L362.31,234.59 L362.81,234.61 L363.31,234.62 L363.81,234.64 L364.31,234.65 L364.82,234.66 L365.32,234.68 L365.82,234.69 L366.32,234.71 L366.83,234.72 L367.33,234.74 L367.83,234.75 L368.34,234.77 L368.84,234.79 L369.34,234.80 L369.85,234.82 L370.35,234.84 L370.86,234.85 L371.36,234.87 L371.86,234.89 L372.37,234.91 L372.87,234.92 L373.38,234.94 L373.88,234.96 L374.39,234.98 L374.89,235.00 L375.40,235.02 L375.90,235.04 L376.41,235.06 L376.92,235.08 L377.42,235.10 L377.93,235.12 L378.43,235.14 L378.94,235.16 L379.45,235.18 L379.95,235.20 L380.46,235.23 L380.97,235.25 L381.48,235.27 L381.98,235.29 L382.49,235.32 L384.45,235.32" stroke="#e8875a"/>
<path d="M58.24,26.45 L58.25,26.45 L58.75,26.45 L59.25,26.45 L59.75,26.45 L60.25,26.45 L60.75,26.45 L61.25,26.45 L61.75,26.45 L62.25,26.45 L62.75,26.45 L63.25,26.45 L63.75,26.45 L64.25,26.45 L64.75,26.45 L65.25,26.45 L65.75,26.45 L66.25,26.45 L66.75,26.45 L67.25,26.45 L67.75,26.45 L68.25,26.45 L68.75,26.45 L69.25,26.45 L69.75,26.45 L70.25,26.45 L70.75,26.45 L71.25,26.45 L71.75,26.45 L72.25,26.45 L72.75,26.45 L73.25,26.45 L73.75,26.45 L74.25,26.45 L74.75,26.45 L75.25,26.45 L75.75,26.45 L76.25,26.45 L76.75,26.45 L77.25,26.45 L77.75,26.45 L78.25,26.45 L78.75,26.45 L79.25,26.45 L79.75,26.45 L80.25,26.45 L80.75,26.45 L81.25,26.45 L81.75,26.45 L82.25,26.45 L82.75,26.45 L83.25,26.45 L83.75,26.45 L84.25,26.45 L84.75,26.45 L85.25,26.45 L85.75,26.45 L86.25,26.45 L86.75,26.45 L87.25,26.45 L87.75,26.45 L88.25,26.45 L88.75,26.45 L89.25,26.45 L89.75,26.45 L90.25,26.45 L90.75,26.45 L91.25,26.45 L91.75,26.45 L92.25,26.45 L92.75,26.46 L93.25,26.46 L93.75,26.46 L94.25,26.47 L94.75,26.47 L95.25,26.47 L95.75,26.48 L96.25,26.49 L96.75,26.49 L97.25,26.50 L97.75,26.51 L98.25,26.52 L98.75,26.53 L99.25,26.54 L99.75,26.55 L100.25,26.56 L100.75,26.57 L101.25,26.58 L101.75,26.59 L102.25,26.61 L102.75,26.62 L103.25,26.63 L103.75,26.65 L104.25,26.66 L104.75,26.68 L105.25,26.69 L105.75,26.71 L106.25,26.72 L106.75,26.73 L107.25,26.75 L107.75,26.76 L108.25,26.78 L108.75,26.79 L109.25,26.81 L109.75,26.82 L110.25,26.83 L110.75,26.85 L111.25,26.86 L111.75,26.87 L112.25,26.89 L112.75,26.90 L113.25,26.92 L113.75,26.93 L114.25,26.95 L114.75,26.97 L115.25,26.99 L115.75,27.01 L116.25,27.04 L116.75,27.06 L117.25,27.09 L117.75,27.12 L118.25,27.16 L118.75,27.19 L119.25,27.22 L119.75,27.26 L120.25,27.30 L120.75,27.34 L121.25,27.39 L121.75,27.43 L122.25,27.48 L122.75,27.53 L123.25,27.58 L123.75,27.63 L124.25,27.68 L124.75,27.73 L125.25,27.78 L125.75,27.84 L126.25,27.89 L126.75,27.95 L127.25,28.01 L127.75,28.08 L128.25,28.14 L128.75,28.21 L129.25,28.28 L129.75,28.35 L130.25,28.42 L130.75,28.50 L131.25,28.58 L131.75,28.66 L132.25,28.75 L132.75,28.83 L133.25,28.92 L133.75,29.02 L134.25,29.11 L134.75,29.21 L135.25,29.31 L135.75,29.41 L136.25,29.52 L136.75,29.63 L137.25,29.74 L137.75,29.86 L138.25,29.98 L138.75,30.10 L139.25,30.23 L139.75,30.35 L140.25,30.49 L140.75,30.62 L141.25,30.76 L141.75,30.90 L142.25,31.05 L142.75,31.20 L143.25,31.35 L143.75,31.50 L144.25,31.66 L144.75,31.83 L145.25,31.99 L145.75,32.16 L146.25,32.34 L146.75,32.51 L147.25,32.70 L147.75,32.88 L148.25,33.07 L148.75,33.27 L149.25,33.46 L149.75,33.66 L150.25,33.87 L150.75,34.08 L151.25,34.29 L151.75,34.51 L152.25,34.73 L152.75,34.96 L153.25,35.19 L153.75,35.43 L154.25,35.67 L154.75,35.91 L155.25,36.16 L155.75,36.41 L156.25,36.67 L156.75,36.93 L157.25,37.20 L157.75,37.47 L158.25,37.75 L158.75,38.03 L159.25,38.32 L159.75,38.61 L160.25,38.90 L160.75,39.21 L161.25,39.51 L161.75,39.82 L162.25,40.14 L162.75,40.46 L163.25,40.79 L163.75,41.12 L164.25,41.45 L164.75,41.80 L165.25,42.14 L165.75,42.50 L166.25,42.85 L166.75,43.22 L167.25,43.58 L167.75,43.96 L168.25,44.33 L168.75,44.71 L169.25,45.10 L169.75,45.49 L170.25,45.88 L170.75,46.28 L171.25,46.68 L171.75,47.08 L172.25,47.49 L172.75,47.90 L173.25,48.32 L173.75,48.73 L174.25,49.15 L174.75,49.57 L175.25,50.00 L175.75,50.42 L176.25,50.85 L176.75,51.28 L177.25,51.72 L177.75,52.15 L178.25,52.59 L178.75,53.02 L179.25,53.46 L179.75,53.90 L180.25,54.34 L180.75,54.78 L181.25,55.23 L181.75,55.67 L182.25,56.11 L182.75,56.55 L183.25,57.00 L183.75,57.44 L184.25,57.88 L184.75,58.32 L185.25,58.77 L185.75,59.21 L186.25,59.65 L186.75,60.09 L187.25,60.52 L187.75,60.96 L188.25,61.40 L188.75,61.83 L189.25,62.26 L189.75,62.69 L190.25,63.12 L190.75,63.55 L191.25,63.97 L191.75,64.39 L192.25,64.81 L192.75,65.22 L193.25,65.64 L193.75,66.05 L194.25,66.45 L194.75,66.86 L195.25,67.26 L195.75,67.65 L196.25,68.04 L196.75,68.43 L197.25,68.82 L197.75,69.20 L198.25,69.58 L198.75,69.95 L199.25,70.32 L199.75,70.69 L200.25,71.06 L200.75,71.42 L201.25,71.78 L201.75,72.14 L202.25,72.49 L202.75,72.84 L203.25,73.19 L203.75,73.53 L204.25,73.87 L204.75,74.21 L205.25,74.55 L205.75,74.88 L206.25,75.21 L206.75,75.54 L207.25,75.86 L207.75,76.18 L208.25,76.50 L208.75,76.82 L209.25,77.13 L209.75,77.45 L210.25,77.76 L210.75,78.06 L211.25,78.37 L211.75,78.67 L212.25,78.97 L212.75,79.27 L213.25,79.57 L213.75,79.86 L214.25,80.15 L214.75,80.44 L215.25,80.73 L215.75,81.02 L216.25,81.30 L216.75,81.58 L217.25,81.86 L217.75,82.14 L218.25,82.42 L218.75,82.69 L219.25,82.97 L219.75,83.24 L220.25,83.51 L220.75,83.78 L221.25,84.05 L221.75,84.31 L222.25,84.58 L222.75,84.84 L223.25,85.10 L223.75,85.36 L224.25,85.62 L224.75,85.88 L225.25,86.14 L225.75,86.39 L226.25,86.65 L226.75,86.90 L227.25,87.15 L227.75,87.40 L228.25,87.65 L228.75,87.90 L229.25,88.15 L229.75,88.40 L230.25,88.65 L230.75,88.89 L231.25,89.14 L231.75,89.39 L232.25,89.63 L232.75,89.87 L233.25,90.12 L233.75,90.36 L234.25,90.60 L234.75,90.84 L235.25,91.08 L235.75,91.32 L236.25,91.56 L236.75,91.80 L237.25,92.03 L237.75,92.27 L238.25,92.51 L238.75,92.74 L239.25,92.98 L239.75,93.21 L240.25,93.44 L240.75,93.67 L241.25,93.91 L241.75,94.14 L242.25,94.37 L242.75,94.60 L243.25,94.83 L243.75,95.05 L244.25,95.28 L244.75,95.51 L245.25,95.73 L245.75,95.96 L246.25,96.19 L246.75,96.41 L247.25,96.63 L247.75,96.86 L248.25,97.08 L248.75,97.30 L249.25,97.52 L249.75,97.74 L250.25,97.96 L250.75,98.18 L251.25,98.40 L251.75,98.62 L252.25,98.83 L252.75,99.05 L253.25,99.27 L253.75,99.48 L254.25,99.70 L254.75,99.91 L255.25,100.12 L255.75,100.34 L256.25,100.55 L256.75,100.76 L257.25,100.97 L257.75,101.18 L258.25,101.39 L258.75,101.60 L259.25,101.81 L259.75,102.02 L260.25,102.23 L260.75,102.43 L261.25,102.64 L261.75,102.85 L262.25,103.05 L262.75,103.26 L263.25,103.46 L263.75,103.66 L264.25,103.87 L264.75,104.07 L265.25,104.27 L265.75,104.47 L266.25,104.67 L266.75,104.87 L267.25,105.07 L267.75,105.27 L268.25,105.47 L268.75,105.67 L269.25,105.87 L269.75,106.06 L270.25,106.26 L270.75,106.46 L271.25,106.65 L271.75,106.85 L272.25,107.04 L272.75,107.24 L273.25,107.43 L273.75,107.62 L274.25,107.82 L274.75,108.01 L275.25,108.20 L275.75,108.39 L276.25,108.58 L276.75,108.77 L277.25,108.96 L277.75,109.15 L278.25,109.34 L278.75,109.53 L279.25,109.71 L279.75,109.90 L280.25,110.09 L280.75,110.27 L281.25,110.46 L281.75,110.64 L282.25,110.83 L282.75,111.01 L283.25,111.20 L283.75,111.38 L284.25,111.56 L284.75,111.75 L285.25,111.93 L285.75,112.11 L286.25,112.29 L286.75,112.47 L287.25,112.65 L287.75,112.83 L288.25,113.01 L288.75,113.19 L289.25,113.37 L289.75,113.55 L290.25,113.72 L290.75,113.90 L291.25,114.08 L291.75,114.26 L292.25,114.43 L292.75,114.61 L293.25,114.78 L293.75,114.96 L294.25,115.13 L294.75,115.31 L295.25,115.48 L295.75,115.65 L296.25,115.82 L296.75,116.00 L297.25,116.17 L297.75,116.34 L298.25,116.51 L298.75,116.68 L299.25,116.85 L299.75,117.02 L300.25,117.19 L300.75,117.36 L301.25,117.53 L301.75,117.69 L302.25,117.86 L302.75,118.03 L303.25,118.19 L303.75,118.36 L304.25,118.52 L304.75,118.69 L305.25,118.85 L305.75,119.02 L306.25,119.18 L306.75,119.34 L307.25,119.51 L307.75,119.67 L308.25,119.83 L308.75,119.99 L309.25,120.15 L309.75,120.31 L310.25,120.47 L310.75,120.63 L311.25,120.79 L311.75,120.95 L312.25,121.10 L312.75,121.26 L313.25,121.42 L313.75,121.57 L314.25,121.73 L314.75,121.88 L315.25,122.04 L315.75,122.19 L316.25,122.34 L316.75,122.50 L317.25,122.65 L317.75,122.80 L318.25,122.95 L318.75,123.10 L319.25,123.25 L319.75,123.40 L320.25,123.55 L320.75,123.70 L321.25,123.84 L321.75,123.99 L322.25,124.14 L322.75,124.28 L323.25,124.43 L323.75,124.57 L324.25,124.72 L324.75,124.86 L325.25,125.01 L325.75,125.15 L326.25,125.29 L326.75,125.43 L327.25,125.57 L327.75,125.71 L328.25,125.85 L328.75,125.99 L329.25,126.13 L329.75,126.27 L330.25,126.41 L330.75,126.54 L331.25,126.68 L331.75,126.82 L332.25,126.95 L332.75,127.08 L333.25,127.22 L333.75,127.35 L334.25,127.48 L334.75,127.62 L335.25,127.75 L335.75,127.88 L336.25,128.01 L336.75,128.14 L337.25,128.27 L337.75,128.39 L338.25,128.52 L338.75,128.65 L339.25,128.78 L339.75,128.90 L340.25,129.03 L340.75,129.15 L341.25,129.27 L341.75,129.40 L342.25,129.52 L342.75,129.64 L343.25,129.76 L343.75,129.88 L344.25,130.00 L344.75,130.12 L345.25,130.24 L345.75,130.36 L346.25,130.48 L346.75,130.59 L347.25,130.71 L347.75,130.82 L348.25,130.94 L348.75,131.05 L349.25,131.17 L349.75,131.28 L350.25,131.39 L350.75,131.50 L351.25,131.61 L351.75,131.72 L352.25,131.83 L352.75,131.94 L353.25,132.05 L353.75,132.15 L354.25,132.26 L354.75,132.37 L355.25,132.47 L355.75,132.58 L356.25,132.68 L356.75,132.78 L357.25,132.88 L357.75,132.98 L358.25,133.09 L358.75,133.19 L359.25,133.28 L359.75,133.38 L360.25,133.48 L360.75,133.58 L361.25,133.67 L361.75,133.77 L362.25,133.86 L362.75,133.96 L363.25,134.05 L363.75,134.14 L364.25,134.24 L364.75,134.33 L365.25,134.42 L365.75,134.51 L366.25,134.60 L366.75,134.68 L367.25,134.77 L367.75,134.86 L368.25,134.94 L368.75,135.03 L369.25,135.11 L369.75,135.20 L370.25,135.28 L370.75,135.36 L371.25,135.44 L371.75,135.52 L372.25,135.60 L372.75,135.68 L373.25,135.76 L373.75,135.84 L374.25,135.91 L374.75,135.99 L375.25,136.06 L375.75,136.14 L376.25,136.21 L376.75,136.28 L377.25,136.35 L377.75,136.43 L378.25,136.50 L378.75,136.56 L379.25,136.63 L379.75,136.70 L380.25,136.77 L380.75,136.83 L381.25,136.90 L381.75,136.96 L382.25,137.03 L384.45,137.03" stroke="#e8875a" stroke-dasharray="5.8 2.68" stroke-dashoffset="0.20"/>
<path d="M58.24,31.35 L58.25,31.35 L58.75,31.35 L59.24,31.35 L59.74,31.35 L60.23,31.35 L60.73,31.35 L61.23,31.35 L61.72,31.35 L62.22,31.35 L62.72,31.35 L63.22,31.35 L63.71,31.35 L64.21,31.35 L64.71,31.35 L65.21,31.35 L65.71,31.35 L66.21,31.35 L66.71,31.35 L67.21,31.35 L67.71,31.35 L68.21,31.35 L68.71,31.35 L69.21,31.35 L69.71,31.35 L70.21,31.35 L70.71,31.35 L71.21,31.35 L71.71,31.35 L72.21,31.35 L72.72,31.35 L73.22,31.35 L73.72,31.35 L74.22,31.35 L74.72,31.35 L75.23,31.35 L75.73,31.35 L76.23,31.35 L76.73,31.35 L77.24,31.35 L77.74,31.35 L78.24,31.35 L78.74,31.35 L79.25,31.35 L79.75,31.35 L80.25,31.35 L80.76,31.35 L81.26,31.35 L81.76,31.35 L82.27,31.35 L82.77,31.35 L83.27,31.35 L83.77,31.35 L84.28,31.35 L84.78,31.35 L85.28,31.35 L85.79,31.35 L86.29,31.35 L86.79,31.35 L87.30,31.35 L87.80,31.35 L88.30,31.35 L88.80,31.35 L89.31,31.35 L89.81,31.35 L90.31,31.35 L90.81,31.35 L91.32,31.35 L91.82,31.35 L92.32,31.35 L92.82,31.35 L93.32,31.35 L93.82,31.36 L94.33,31.36 L94.83,31.36 L95.33,31.37 L95.83,31.38 L96.33,31.38 L96.83,31.39 L97.33,31.41 L97.83,31.42 L98.33,31.44 L98.83,31.46 L99.33,31.48 L99.83,31.51 L100.33,31.54 L100.82,31.57 L101.32,31.61 L101.82,31.65 L102.32,31.69 L102.81,31.74 L103.31,31.80 L103.81,31.86 L104.31,31.92 L104.80,31.99 L105.30,32.06 L105.79,32.14 L106.29,32.22 L106.78,32.30 L107.28,32.39 L107.77,32.49 L108.26,32.58 L108.76,32.68 L109.25,32.79 L109.74,32.89 L110.24,33.00 L110.73,33.10 L111.22,33.21 L111.71,33.31 L112.20,33.41 L112.69,33.52 L113.18,33.62 L113.67,33.73 L114.15,33.84 L114.64,33.96 L115.13,34.08 L115.61,34.20 L116.10,34.32 L116.58,34.45 L117.06,34.58 L117.55,34.71 L118.03,34.84 L118.51,34.98 L118.99,35.12 L119.47,35.27 L119.95,35.41 L120.43,35.56 L120.90,35.71 L121.38,35.87 L121.85,36.03 L122.33,36.19 L122.80,36.35 L123.27,36.51 L123.75,36.68 L124.22,36.85 L124.68,37.03 L125.15,37.21 L125.62,37.39 L126.09,37.57 L126.55,37.75 L127.01,37.94 L127.48,38.13 L127.94,38.33 L128.40,38.52 L128.86,38.72 L129.31,38.92 L129.77,39.13 L130.23,39.34 L130.68,39.55 L131.13,39.76 L131.58,39.98 L132.03,40.19 L132.48,40.42 L132.93,40.64 L133.37,40.87 L133.82,41.10 L134.26,41.33 L134.70,41.56 L135.14,41.80 L135.58,42.04 L136.02,42.29 L136.45,42.53 L136.89,42.78 L137.32,43.03 L137.75,43.29 L138.18,43.54 L138.60,43.80 L139.03,44.07 L139.45,44.33 L139.88,44.60 L140.30,44.87 L140.72,45.14 L141.13,45.42 L141.55,45.70 L141.96,45.98 L142.38,46.26 L142.79,46.55 L143.20,46.83 L143.60,47.12 L144.01,47.42 L144.42,47.71 L144.82,48.01 L145.22,48.31 L145.62,48.61 L146.02,48.92 L146.41,49.22 L146.81,49.53 L147.20,49.84 L147.59,50.15 L147.98,50.47 L148.37,50.79 L148.76,51.11 L149.14,51.43 L149.53,51.75 L149.91,52.08 L150.29,52.41 L150.67,52.74 L151.04,53.07 L151.42,53.40 L151.79,53.74 L152.16,54.07 L152.53,54.41 L152.90,54.76 L153.27,55.10 L153.63,55.44 L154.00,55.79 L154.36,56.14 L154.72,56.49 L155.08,56.84 L155.43,57.19 L155.79,57.55 L156.14,57.91 L156.49,58.26 L156.84,58.62 L157.19,58.99 L157.54,59.35 L157.88,59.71 L158.23,60.08 L158.57,60.45 L158.91,60.82 L159.25,61.19 L159.58,61.56 L159.92,61.93 L160.25,62.31 L160.59,62.68 L160.92,63.06 L161.24,63.44 L161.57,63.82 L161.90,64.20 L162.22,64.58 L162.54,64.97 L162.86,65.35 L163.18,65.74 L163.50,66.13 L163.81,66.52 L164.12,66.90 L164.44,67.30 L164.75,67.69 L165.05,68.08 L165.36,68.47 L165.67,68.87 L165.97,69.27 L166.27,69.66 L166.57,70.06 L166.87,70.46 L167.17,70.86 L167.47,71.26 L167.76,71.66 L168.06,72.07 L168.35,72.47 L168.64,72.88 L168.93,73.28 L169.22,73.69 L169.50,74.10 L169.79,74.51 L170.07,74.92 L170.36,75.33 L170.64,75.74 L170.92,76.15 L171.20,76.57 L171.47,76.98 L171.75,77.40 L172.03,77.81 L172.30,78.23 L172.57,78.65 L172.84,79.07 L173.11,79.48 L173.38,79.90 L173.65,80.33 L173.92,80.75 L174.18,81.17 L174.45,81.59 L174.71,82.02 L174.98,82.44 L175.24,82.87 L175.50,83.29 L175.76,83.72 L176.02,84.15 L176.27,84.57 L176.53,85.00 L176.78,85.43 L177.04,85.86 L177.29,86.29 L177.55,86.72 L177.80,87.15 L178.05,87.58 L178.30,88.02 L178.55,88.45 L178.79,88.88 L179.04,89.32 L179.29,89.75 L179.53,90.19 L179.78,90.62 L180.02,91.06 L180.27,91.50 L180.51,91.93 L180.75,92.37 L180.99,92.81 L181.23,93.25 L181.47,93.69 L181.71,94.13 L181.95,94.57 L182.19,95.01 L182.42,95.45 L182.66,95.89 L182.89,96.33 L183.13,96.77 L183.36,97.21 L183.59,97.66 L183.83,98.10 L184.06,98.54 L184.29,98.99 L184.52,99.43 L184.75,99.87 L184.98,100.32 L185.20,100.77 L185.43,101.21 L185.66,101.66 L185.88,102.10 L186.11,102.55 L186.34,103.00 L186.56,103.45 L186.78,103.89 L187.01,104.34 L187.23,104.79 L187.45,105.24 L187.67,105.69 L187.89,106.14 L188.11,106.59 L188.33,107.04 L188.55,107.49 L188.77,107.94 L188.98,108.39 L189.20,108.85 L189.42,109.30 L189.63,109.75 L189.85,110.20 L190.06,110.66 L190.28,111.11 L190.49,111.56 L190.70,112.02 L190.92,112.47 L191.13,112.92 L191.34,113.38 L191.55,113.83 L191.76,114.29 L191.97,114.74 L192.18,115.20 L192.39,115.66 L192.60,116.11 L192.80,116.57 L193.01,117.03 L193.22,117.48 L193.42,117.94 L193.63,118.40 L193.83,118.85 L194.04,119.31 L194.24,119.77 L194.45,120.23 L194.65,120.69 L194.85,121.15 L195.06,121.60 L195.26,122.06 L195.46,122.52 L195.66,122.98 L195.86,123.44 L196.06,123.90 L196.26,124.36 L196.46,124.82 L196.66,125.28 L196.86,125.74 L197.06,126.20 L197.26,126.66 L197.45,127.13 L197.65,127.59 L197.85,128.05 L198.05,128.51 L198.24,128.97 L198.44,129.43 L198.63,129.89 L198.83,130.36 L199.02,130.82 L199.22,131.28 L199.41,131.74 L199.61,132.21 L199.80,132.67 L199.99,133.13 L200.19,133.59 L200.38,134.06 L200.57,134.52 L200.76,134.98 L200.95,135.44 L201.15,135.91 L201.34,136.37 L201.53,136.83 L201.72,137.30 L201.91,137.76 L202.10,138.22 L202.29,138.69 L202.48,139.15 L202.67,139.62 L202.86,140.08 L203.04,140.54 L203.23,141.01 L203.42,141.47 L203.61,141.93 L203.80,142.40 L203.99,142.86 L204.17,143.33 L204.36,143.79 L204.55,144.25 L204.73,144.72 L204.92,145.18 L205.11,145.65 L205.29,146.11 L205.48,146.57 L205.67,147.04 L205.85,147.50 L206.04,147.96 L206.23,148.43 L206.41,148.89 L206.60,149.35 L206.79,149.82 L206.97,150.28 L207.16,150.74 L207.35,151.21 L207.53,151.67 L207.72,152.13 L207.91,152.59 L208.10,153.06 L208.29,153.52 L208.47,153.98 L208.66,154.44 L208.85,154.90 L209.04,155.36 L209.23,155.82 L209.42,156.28 L209.61,156.74 L209.81,157.20 L210.00,157.66 L210.19,158.12 L210.38,158.58 L210.58,159.04 L210.77,159.50 L210.97,159.96 L211.16,160.42 L211.36,160.87 L211.56,161.33 L211.76,161.79 L211.95,162.24 L212.15,162.70 L212.36,163.15 L212.56,163.61 L212.76,164.06 L212.96,164.52 L213.17,164.97 L213.37,165.43 L213.58,165.88 L213.79,166.33 L213.99,166.78 L214.20,167.23 L214.41,167.68 L214.63,168.13 L214.84,168.58 L215.05,169.03 L215.27,169.48 L215.48,169.93 L215.70,170.38 L215.92,170.82 L216.14,171.27 L216.36,171.72 L216.58,172.16 L216.81,172.61 L217.03,173.05 L217.26,173.49 L217.49,173.93 L217.72,174.38 L217.95,174.82 L218.19,175.26 L218.42,175.70 L218.66,176.14 L218.89,176.57 L219.13,177.01 L219.38,177.45 L219.62,177.88 L219.86,178.32 L220.11,178.75 L220.36,179.19 L220.61,179.62 L220.86,180.05 L221.11,180.48 L221.37,180.91 L221.63,181.34 L221.89,181.77 L222.15,182.20 L222.41,182.63 L222.68,183.05 L222.94,183.48 L223.21,183.90 L223.49,184.33 L223.76,184.75 L224.03,185.17 L224.31,185.59 L224.59,186.01 L224.87,186.43 L225.16,186.85 L225.44,187.26 L225.73,187.68 L226.02,188.09 L226.31,188.50 L226.61,188.91 L226.91,189.32 L227.20,189.73 L227.50,190.14 L227.81,190.54 L228.11,190.95 L228.42,191.35 L228.73,191.75 L229.04,192.15 L229.35,192.55 L229.66,192.95 L229.98,193.34 L230.30,193.73 L230.62,194.12 L230.94,194.51 L231.27,194.90 L231.60,195.29 L231.93,195.67 L232.26,196.05 L232.59,196.43 L232.93,196.81 L233.26,197.19 L233.60,197.56 L233.94,197.93 L234.29,198.30 L234.63,198.67 L234.98,199.04 L235.33,199.40 L235.68,199.76 L236.04,200.12 L236.39,200.47 L236.75,200.83 L237.11,201.18 L237.47,201.53 L237.84,201.88 L238.20,202.22 L238.57,202.56 L238.94,202.90 L239.31,203.24 L239.68,203.57 L240.06,203.90 L240.44,204.23 L240.82,204.56 L241.20,204.88 L241.58,205.20 L241.97,205.52 L242.36,205.83 L242.75,206.15 L243.14,206.46 L243.54,206.76 L243.93,207.06 L244.33,207.36 L244.73,207.66 L245.13,207.96 L245.54,208.25 L245.94,208.53 L246.35,208.82 L246.76,209.10 L247.17,209.38 L247.59,209.65 L248.00,209.92 L248.42,210.19 L248.84,210.45 L249.26,210.72 L249.69,210.97 L250.11,211.23 L250.54,211.48 L250.97,211.73 L251.40,211.98 L251.83,212.22 L252.27,212.46 L252.71,212.69 L253.14,212.93 L253.58,213.16 L254.02,213.39 L254.47,213.61 L254.91,213.83 L255.36,214.05 L255.81,214.27 L256.26,214.48 L256.71,214.69 L257.16,214.90 L257.61,215.11 L258.07,215.31 L258.52,215.51 L258.98,215.71 L259.44,215.90 L259.90,216.10 L260.36,216.29 L260.82,216.48 L261.28,216.66 L261.75,216.84 L262.21,217.03 L262.68,217.20 L263.15,217.38 L263.62,217.55 L264.09,217.73 L264.56,217.90 L265.03,218.06 L265.50,218.23 L265.98,218.39 L266.45,218.55 L266.93,218.71 L267.40,218.87 L267.88,219.03 L268.36,219.18 L268.84,219.33 L269.32,219.48 L269.79,219.63 L270.28,219.78 L270.76,219.92 L271.24,220.06 L271.72,220.20 L272.20,220.34 L272.69,220.48 L273.17,220.62 L273.65,220.75 L274.14,220.88 L274.62,221.02 L275.11,221.15 L275.60,221.27 L276.08,221.40 L276.57,221.53 L277.05,221.65 L277.54,221.77 L278.03,221.90 L278.52,222.02 L279.00,222.13 L279.49,222.25 L279.98,222.37 L280.47,222.48 L280.96,222.60 L281.44,222.71 L281.93,222.82 L282.42,222.93 L282.91,223.04 L283.40,223.15 L283.89,223.26 L284.38,223.36 L284.87,223.47 L285.36,223.57 L285.85,223.67 L286.34,223.77 L286.83,223.87 L287.32,223.97 L287.81,224.07 L288.31,224.17 L288.80,224.26 L289.29,224.36 L289.78,224.45 L290.27,224.54 L290.77,224.63 L291.26,224.72 L291.75,224.81 L292.24,224.90 L292.74,224.99 L293.23,225.08 L293.72,225.16 L294.22,225.25 L294.71,225.33 L295.20,225.41 L295.70,225.50 L296.19,225.58 L296.68,225.66 L297.18,225.74 L297.67,225.81 L298.17,225.89 L298.66,225.97 L299.16,226.04 L299.65,226.12 L300.15,226.19 L300.64,226.27 L301.14,226.34 L301.63,226.41 L302.13,226.48 L302.62,226.55 L303.12,226.62 L303.61,226.69 L304.11,226.76 L304.61,226.83 L305.10,226.89 L305.60,226.96 L306.09,227.03 L306.59,227.09 L307.09,227.16 L307.58,227.22 L308.08,227.28 L308.58,227.35 L309.07,227.41 L309.57,227.47 L310.07,227.53 L310.57,227.59 L311.06,227.65 L311.56,227.71 L312.06,227.77 L312.55,227.82 L313.05,227.88 L313.55,227.94 L314.05,228.00 L314.54,228.05 L315.04,228.11 L315.54,228.16 L316.04,228.22 L316.53,228.27 L317.03,228.32 L317.53,228.38 L318.03,228.43 L318.53,228.48 L319.02,228.54 L319.52,228.59 L320.02,228.64 L320.52,228.69 L321.02,228.74 L321.51,228.79 L322.01,228.84 L322.51,228.89 L323.01,228.94 L323.51,228.99 L324.00,229.04 L324.50,229.09 L325.00,229.14 L325.50,229.19 L326.00,229.23 L326.50,229.28 L326.99,229.33 L327.49,229.37 L327.99,229.42 L328.49,229.47 L328.99,229.51 L329.49,229.56 L329.98,229.60 L330.48,229.65 L330.98,229.69 L331.48,229.74 L331.98,229.78 L332.48,229.82 L332.97,229.87 L333.47,229.91 L333.97,229.95 L334.47,229.99 L334.97,230.04 L335.47,230.08 L335.97,230.12 L336.47,230.16 L336.96,230.20 L337.46,230.24 L337.96,230.28 L338.46,230.32 L338.96,230.36 L339.46,230.40 L339.96,230.43 L340.46,230.47 L340.96,230.51 L341.45,230.55 L341.95,230.58 L342.45,230.62 L342.95,230.66 L343.45,230.69 L343.95,230.73 L344.45,230.76 L344.95,230.80 L345.45,230.83 L345.95,230.87 L346.45,230.90 L346.95,230.94 L347.44,230.97 L347.94,231.00 L348.44,231.04 L348.94,231.07 L349.44,231.10 L349.94,231.13 L350.44,231.16 L350.94,231.19 L351.44,231.22 L351.94,231.25 L352.44,231.29 L352.94,231.31 L353.44,231.34 L353.94,231.37 L354.44,231.40 L354.94,231.43 L355.44,231.46 L355.94,231.49 L356.44,231.51 L356.94,231.54 L357.43,231.57 L357.93,231.59 L358.43,231.62 L358.93,231.65 L359.43,231.67 L359.93,231.70 L360.43,231.72 L360.93,231.74 L361.43,231.77 L361.93,231.79 L362.43,231.82 L362.93,231.84 L363.43,231.86 L363.93,231.88 L364.43,231.91 L364.93,231.93 L365.43,231.95 L365.93,231.97 L366.43,231.99 L366.93,232.01 L367.43,232.03 L367.94,232.05 L368.44,232.07 L368.94,232.09 L369.44,232.11 L369.94,232.13 L370.44,232.14 L370.94,232.16 L371.44,232.18 L371.94,232.20 L372.44,232.21 L372.94,232.23 L373.44,232.25 L373.94,232.26 L374.44,232.28 L374.94,232.29 L375.44,232.31 L375.94,232.32 L376.44,232.33 L376.94,232.35 L377.44,232.36 L377.94,232.37 L378.45,232.39 L378.95,232.40 L379.45,232.41 L379.95,232.42 L380.45,232.43 L380.95,232.44 L381.45,232.46 L381.95,232.47 L382.45,232.48 L384.45,232.48" stroke="#1f4e80"/>
<path d="M58.24,26.45 L58.25,26.45 L58.75,26.45 L59.25,26.45 L59.75,26.45 L60.25,26.45 L60.75,26.45 L61.25,26.45 L61.75,26.45 L62.25,26.45 L62.75,26.45 L63.25,26.45 L63.75,26.45 L64.25,26.45 L64.75,26.45 L65.25,26.45 L65.75,26.45 L66.25,26.45 L66.75,26.45 L67.25,26.45 L67.75,26.45 L68.25,26.45 L68.75,26.45 L69.25,26.45 L69.75,26.45 L70.25,26.45 L70.75,26.45 L71.25,26.45 L71.75,26.45 L72.25,26.45 L72.75,26.45 L73.25,26.45 L73.75,26.45 L74.25,26.45 L74.75,26.45 L75.25,26.45 L75.75,26.45 L76.25,26.45 L76.75,26.45 L77.25,26.45 L77.75,26.45 L78.25,26.45 L78.75,26.45 L79.25,26.45 L79.75,26.45 L80.25,26.45 L80.75,26.45 L81.25,26.45 L81.75,26.45 L82.25,26.45 L82.75,26.45 L83.25,26.45 L83.75,26.45 L84.25,26.45 L84.75,26.45 L85.25,26.45 L85.75,26.45 L86.25,26.45 L86.75,26.45 L87.25,26.45 L87.75,26.45 L88.25,26.45 L88.75,26.45 L89.25,26.45 L89.75,26.45 L90.25,26.45 L90.75,26.45 L91.25,26.45 L91.75,26.45 L92.25,26.45 L92.75,26.46 L93.25,26.46 L93.75,26.46 L94.25,26.47 L94.75,26.47 L95.25,26.47 L95.75,26.48 L96.25,26.49 L96.75,26.49 L97.25,26.50 L97.75,26.51 L98.25,26.52 L98.75,26.53 L99.25,26.54 L99.75,26.55 L100.25,26.56 L100.75,26.57 L101.25,26.58 L101.75,26.60 L102.25,26.61 L102.75,26.62 L103.25,26.63 L103.75,26.65 L104.25,26.66 L104.75,26.68 L105.25,26.69 L105.75,26.70 L106.25,26.72 L106.75,26.73 L107.25,26.75 L107.75,26.76 L108.25,26.77 L108.75,26.78 L109.25,26.79 L109.75,26.80 L110.25,26.81 L110.75,26.82 L111.25,26.83 L111.75,26.83 L112.25,26.84 L112.75,26.84 L113.25,26.85 L113.75,26.85 L114.25,26.86 L114.75,26.86 L115.25,26.87 L115.75,26.88 L116.25,26.88 L116.75,26.89 L117.25,26.89 L117.75,26.90 L118.25,26.91 L118.75,26.91 L119.25,26.92 L119.75,26.93 L120.25,26.94 L120.75,26.95 L121.25,26.96 L121.75,26.97 L122.25,26.98 L122.75,26.99 L123.25,27.00 L123.75,27.01 L124.25,27.02 L124.75,27.04 L125.25,27.05 L125.75,27.07 L126.25,27.08 L126.75,27.10 L127.25,27.12 L127.75,27.14 L128.25,27.16 L128.75,27.18 L129.25,27.20 L129.75,27.22 L130.25,27.24 L130.75,27.27 L131.25,27.29 L131.75,27.32 L132.25,27.35 L132.75,27.38 L133.25,27.41 L133.75,27.44 L134.25,27.47 L134.75,27.51 L135.25,27.54 L135.75,27.58 L136.25,27.62 L136.75,27.66 L137.25,27.70 L137.75,27.74 L138.25,27.79 L138.75,27.83 L139.25,27.88 L139.75,27.93 L140.25,27.98 L140.75,28.04 L141.25,28.09 L141.75,28.15 L142.25,28.20 L142.75,28.26 L143.25,28.32 L143.75,28.39 L144.25,28.45 L144.75,28.52 L145.25,28.59 L145.75,28.66 L146.25,28.73 L146.75,28.81 L147.25,28.89 L147.75,28.97 L148.25,29.05 L148.75,29.13 L149.25,29.22 L149.75,29.31 L150.25,29.40 L150.75,29.49 L151.25,29.59 L151.75,29.68 L152.25,29.78 L152.75,29.89 L153.25,29.99 L153.75,30.10 L154.25,30.20 L154.75,30.31 L155.25,30.43 L155.75,30.54 L156.25,30.66 L156.75,30.78 L157.25,30.90 L157.75,31.02 L158.25,31.15 L158.75,31.27 L159.25,31.40 L159.75,31.54 L160.25,31.67 L160.75,31.80 L161.25,31.94 L161.75,32.08 L162.25,32.22 L162.75,32.36 L163.25,32.51 L163.75,32.66 L164.25,32.80 L164.75,32.96 L165.25,33.11 L165.75,33.26 L166.25,33.42 L166.75,33.58 L167.25,33.73 L167.75,33.90 L168.25,34.06 L168.75,34.22 L169.25,34.39 L169.75,34.56 L170.25,34.73 L170.75,34.90 L171.25,35.07 L171.75,35.25 L172.25,35.42 L172.75,35.60 L173.25,35.78 L173.75,35.96 L174.25,36.15 L174.75,36.33 L175.25,36.52 L175.75,36.70 L176.25,36.89 L176.75,37.08 L177.25,37.27 L177.75,37.47 L178.25,37.66 L178.75,37.86 L179.25,38.05 L179.75,38.25 L180.25,38.45 L180.75,38.65 L181.25,38.86 L181.75,39.06 L182.25,39.27 L182.75,39.47 L183.25,39.68 L183.75,39.89 L184.25,40.10 L184.75,40.31 L185.25,40.53 L185.75,40.74 L186.25,40.96 L186.75,41.17 L187.25,41.39 L187.75,41.61 L188.25,41.83 L188.75,42.05 L189.25,42.27 L189.75,42.50 L190.25,42.72 L190.75,42.95 L191.25,43.17 L191.75,43.40 L192.25,43.63 L192.75,43.86 L193.25,44.09 L193.75,44.32 L194.25,44.55 L194.75,44.79 L195.25,45.02 L195.75,45.26 L196.25,45.49 L196.75,45.73 L197.25,45.97 L197.75,46.21 L198.25,46.44 L198.75,46.68 L199.25,46.93 L199.75,47.17 L200.25,47.41 L200.75,47.65 L201.25,47.90 L201.75,48.14 L202.25,48.39 L202.75,48.63 L203.25,48.88 L203.75,49.12 L204.25,49.37 L204.75,49.62 L205.25,49.87 L205.75,50.12 L206.25,50.37 L206.75,50.62 L207.25,50.87 L207.75,51.12 L208.25,51.37 L208.75,51.63 L209.25,51.88 L209.75,52.13 L210.25,52.39 L210.75,52.64 L211.25,52.90 L211.75,53.15 L212.25,53.41 L212.75,53.66 L213.25,53.92 L213.75,54.17 L214.25,54.43 L214.75,54.69 L215.25,54.94 L215.75,55.20 L216.25,55.46 L216.75,55.72 L217.25,55.97 L217.75,56.23 L218.25,56.49 L218.75,56.75 L219.25,57.01 L219.75,57.26 L220.25,57.52 L220.75,57.78 L221.25,58.04 L221.75,58.30 L222.25,58.56 L222.75,58.82 L223.25,59.08 L223.75,59.34 L224.25,59.59 L224.75,59.85 L225.25,60.11 L225.75,60.37 L226.25,60.63 L226.75,60.89 L227.25,61.14 L227.75,61.40 L228.25,61.66 L228.75,61.92 L229.25,62.18 L229.75,62.43 L230.25,62.69 L230.75,62.95 L231.25,63.20 L231.75,63.46 L232.25,63.72 L232.75,63.97 L233.25,64.23 L233.75,64.48 L234.25,64.74 L234.75,64.99 L235.25,65.24 L235.75,65.50 L236.25,65.75 L236.75,66.00 L237.25,66.25 L237.75,66.51 L238.25,66.76 L238.75,67.01 L239.25,67.26 L239.75,67.51 L240.25,67.76 L240.75,68.00 L241.25,68.25 L241.75,68.50 L242.25,68.75 L242.75,68.99 L243.25,69.24 L243.75,69.48 L244.25,69.73 L244.75,69.97 L245.25,70.21 L245.75,70.46 L246.25,70.70 L246.75,70.94 L247.25,71.18 L247.75,71.42 L248.25,71.66 L248.75,71.90 L249.25,72.14 L249.75,72.38 L250.25,72.62 L250.75,72.85 L251.25,73.09 L251.75,73.33 L252.25,73.56 L252.75,73.80 L253.25,74.03 L253.75,74.27 L254.25,74.50 L254.75,74.73 L255.25,74.97 L255.75,75.20 L256.25,75.43 L256.75,75.66 L257.25,75.89 L257.75,76.12 L258.25,76.35 L258.75,76.58 L259.25,76.81 L259.75,77.04 L260.25,77.26 L260.75,77.49 L261.25,77.72 L261.75,77.94 L262.25,78.17 L262.75,78.39 L263.25,78.62 L263.75,78.84 L264.25,79.06 L264.75,79.29 L265.25,79.51 L265.75,79.73 L266.25,79.95 L266.75,80.17 L267.25,80.40 L267.75,80.62 L268.25,80.83 L268.75,81.05 L269.25,81.27 L269.75,81.49 L270.25,81.71 L270.75,81.93 L271.25,82.14 L271.75,82.36 L272.25,82.57 L272.75,82.79 L273.25,83.00 L273.75,83.22 L274.25,83.43 L274.75,83.65 L275.25,83.86 L275.75,84.07 L276.25,84.28 L276.75,84.50 L277.25,84.71 L277.75,84.92 L278.25,85.13 L278.75,85.34 L279.25,85.55 L279.75,85.76 L280.25,85.97 L280.75,86.17 L281.25,86.38 L281.75,86.59 L282.25,86.80 L282.75,87.00 L283.25,87.21 L283.75,87.41 L284.25,87.62 L284.75,87.82 L285.25,88.03 L285.75,88.23 L286.25,88.43 L286.75,88.64 L287.25,88.84 L287.75,89.04 L288.25,89.24 L288.75,89.45 L289.25,89.65 L289.75,89.85 L290.25,90.05 L290.75,90.25 L291.25,90.45 L291.75,90.65 L292.25,90.84 L292.75,91.04 L293.25,91.24 L293.75,91.44 L294.25,91.63 L294.75,91.83 L295.25,92.03 L295.75,92.22 L296.25,92.42 L296.75,92.61 L297.25,92.81 L297.75,93.00 L298.25,93.19 L298.75,93.39 L299.25,93.58 L299.75,93.77 L300.25,93.97 L300.75,94.16 L301.25,94.35 L301.75,94.54 L302.25,94.73 L302.75,94.92 L303.25,95.11 L303.75,95.30 L304.25,95.49 L304.75,95.68 L305.25,95.87 L305.75,96.06 L306.25,96.24 L306.75,96.43 L307.25,96.62 L307.75,96.81 L308.25,96.99 L308.75,97.18 L309.25,97.36 L309.75,97.55 L310.25,97.73 L310.75,97.92 L311.25,98.10 L311.75,98.28 L312.25,98.47 L312.75,98.65 L313.25,98.83 L313.75,99.01 L314.25,99.19 L314.75,99.37 L315.25,99.55 L315.75,99.73 L316.25,99.91 L316.75,100.09 L317.25,100.27 L317.75,100.45 L318.25,100.63 L318.75,100.80 L319.25,100.98 L319.75,101.16 L320.25,101.33 L320.75,101.51 L321.25,101.68 L321.75,101.86 L322.25,102.03 L322.75,102.21 L323.25,102.38 L323.75,102.55 L324.25,102.73 L324.75,102.90 L325.25,103.07 L325.75,103.24 L326.25,103.41 L326.75,103.58 L327.25,103.75 L327.75,103.92 L328.25,104.09 L328.75,104.26 L329.25,104.42 L329.75,104.59 L330.25,104.76 L330.75,104.92 L331.25,105.09 L331.75,105.26 L332.25,105.42 L332.75,105.58 L333.25,105.75 L333.75,105.91 L334.25,106.07 L334.75,106.24 L335.25,106.40 L335.75,106.56 L336.25,106.72 L336.75,106.88 L337.25,107.04 L337.75,107.20 L338.25,107.36 L338.75,107.52 L339.25,107.68 L339.75,107.83 L340.25,107.99 L340.75,108.15 L341.25,108.30 L341.75,108.46 L342.25,108.61 L342.75,108.77 L343.25,108.92 L343.75,109.07 L344.25,109.23 L344.75,109.38 L345.25,109.53 L345.75,109.68 L346.25,109.83 L346.75,109.98 L347.25,110.13 L347.75,110.28 L348.25,110.43 L348.75,110.58 L349.25,110.73 L349.75,110.87 L350.25,111.02 L350.75,111.16 L351.25,111.31 L351.75,111.45 L352.25,111.60 L352.75,111.74 L353.25,111.89 L353.75,112.03 L354.25,112.17 L354.75,112.31 L355.25,112.45 L355.75,112.59 L356.25,112.73 L356.75,112.87 L357.25,113.01 L357.75,113.15 L358.25,113.28 L358.75,113.42 L359.25,113.56 L359.75,113.69 L360.25,113.83 L360.75,113.96 L361.25,114.10 L361.75,114.23 L362.25,114.36 L362.75,114.49 L363.25,114.63 L363.75,114.76 L364.25,114.89 L364.75,115.02 L365.25,115.15 L365.75,115.27 L366.25,115.40 L366.75,115.53 L367.25,115.66 L367.75,115.78 L368.25,115.91 L368.75,116.03 L369.25,116.16 L369.75,116.28 L370.25,116.40 L370.75,116.53 L371.25,116.65 L371.75,116.77 L372.25,116.89 L372.75,117.01 L373.25,117.13 L373.75,117.25 L374.25,117.37 L374.75,117.48 L375.25,117.60 L375.75,117.72 L376.25,117.83 L376.75,117.95 L377.25,118.06 L377.75,118.18 L378.25,118.29 L378.75,118.40 L379.25,118.51 L379.75,118.62 L380.25,118.73 L380.75,118.84 L381.25,118.95 L381.75,119.06 L382.25,119.17 L384.45,119.17" stroke="#1f4e80" stroke-dasharray="5.8 2.68" stroke-dashoffset="0.20"/>
</g>
<line x1="111" x2="147.4" y1="202.9" y2="202.9" stroke="#f5c89f" stroke-width="1.7"/>
<line x1="111" x2="147.4" y1="216.4" y2="216.4" stroke="#e8875a" stroke-width="1.7"/>
<line x1="111" x2="147.4" y1="229.9" y2="229.9" stroke="#1f4e80" stroke-width="1.7"/>
<g stroke="#000" stroke-width="1.7" fill="none">
<rect x="58.25" y="13.95" width="324.2" height="227.5"/>
<line x1="58.35" x2="58.35" y1="241.45" y2="237.85"/>
<line x1="58.35" x2="58.35" y1="13.95" y2="17.55"/>
<line x1="98.88" x2="98.88" y1="241.45" y2="237.85"/>
<line x1="98.88" x2="98.88" y1="13.95" y2="17.55"/>
<line x1="139.40" x2="139.40" y1="241.45" y2="237.85"/>
<line x1="139.40" x2="139.40" y1="13.95" y2="17.55"/>
<line x1="179.92" x2="179.92" y1="241.45" y2="237.85"/>
<line x1="179.92" x2="179.92" y1="13.95" y2="17.55"/>
<line x1="220.45" x2="220.45" y1="241.45" y2="237.85"/>
<line x1="220.45" x2="220.45" y1="13.95" y2="17.55"/>
<line x1="260.98" x2="260.98" y1="241.45" y2="237.85"/>
<line x1="260.98" x2="260.98" y1="13.95" y2="17.55"/>
<line x1="301.50" x2="301.50" y1="241.45" y2="237.85"/>
<line x1="301.50" x2="301.50" y1="13.95" y2="17.55"/>
<line x1="342.03" x2="342.03" y1="241.45" y2="237.85"/>
<line x1="342.03" x2="342.03" y1="13.95" y2="17.55"/>
<line x1="382.55" x2="382.55" y1="241.45" y2="237.85"/>
<line x1="382.55" x2="382.55" y1="13.95" y2="17.55"/>
<line x1="58.25" x2="61.85" y1="241.45" y2="241.45"/>
<line x1="382.45" x2="378.84999999999997" y1="241.45" y2="241.45"/>
<line x1="58.25" x2="61.85" y1="195.95" y2="195.95"/>
<line x1="382.45" x2="378.84999999999997" y1="195.95" y2="195.95"/>
<line x1="58.25" x2="61.85" y1="150.45" y2="150.45"/>
<line x1="382.45" x2="378.84999999999997" y1="150.45" y2="150.45"/>
<line x1="58.25" x2="61.85" y1="104.95" y2="104.95"/>
<line x1="382.45" x2="378.84999999999997" y1="104.95" y2="104.95"/>
<line x1="58.25" x2="61.85" y1="59.45" y2="59.45"/>
<line x1="382.45" x2="378.84999999999997" y1="59.45" y2="59.45"/>
<line x1="58.25" x2="61.85" y1="13.95" y2="13.95"/>
<line x1="382.45" x2="378.84999999999997" y1="13.95" y2="13.95"/>
</g>
</svg>
<div id="txt">
<div class="t yt" style="left:10.1px;top:234px"><span class="s">0</span></div>
<div class="t yt" style="left:10.1px;top:188px"><span class="s">20</span></div>
<div class="t yt" style="left:10.1px;top:143px"><span class="s">40</span></div>
<div class="t yt" style="left:10.1px;top:97px"><span class="s">60</span></div>
<div class="t yt" style="left:10.1px;top:51px"><span class="s">80</span></div>
<div class="t yt" style="left:10.1px;top:6px"><span class="s">100</span></div>
<div class="t xt" style="left:38.2px;top:248px"><span class="s">0</span></div>
<div class="t xt" style="left:78.8px;top:248px"><span class="s">50</span></div>
<div class="t xt" style="left:119.3px;top:248px"><span class="s">100</span></div>
<div class="t xt" style="left:159.8px;top:248px"><span class="s">150</span></div>
<div class="t xt" style="left:200.3px;top:248px"><span class="s">200</span></div>
<div class="t xt" style="left:240.9px;top:248px"><span class="s">250</span></div>
<div class="t xt" style="left:281.4px;top:248px"><span class="s">300</span></div>
<div class="t xt" style="left:321.9px;top:248px"><span class="s">350</span></div>
<div class="t xt" style="left:362.4px;top:248px"><span class="s">400</span></div>
<div class="t" style="left:194.7px;top:267.8px;font-size:13.3px"><span class="s" style="transform:scaleY(0.95)"><i style="display:inline-block;transform:scaleX(1.1);transform-origin:0 50%">T</i><span style="margin-left:6.6px">[MeV]</span></span></div>
<div class="t" style="left:3.0px;top:161.6px;transform-origin:0 0;transform:rotate(-90deg)"><i style="font-size:14.4px">σ</i><i style="font-size:9.5px;position:relative;top:2.6px;margin-left:0.6px">l</i><i>,</i><i style="font-size:14.4px;margin-left:3.2px">σ</i><i style="font-size:9.5px;position:relative;top:2.6px;margin-left:0.3px">s</i><span class="s" style="margin-left:5.8px">[MeV]</span></div>
<div class="t" style="right:303.7px;top:195.7px;text-align:right;font-size:13.45px;color:#000;-webkit-text-stroke:0.1px #000"><span class="s" style="transform:scaleY(0.874)">sMFA</span></div>
<div class="t" style="right:303.7px;top:209.2px;text-align:right;font-size:13.45px;color:#000;-webkit-text-stroke:0.1px #000"><span class="s" style="transform:scaleY(0.874)">rMFA</span></div>
<div class="t" style="right:303.7px;top:222.7px;text-align:right;font-size:13.45px;color:#000;-webkit-text-stroke:0.1px #000"><span class="s" style="transform:scaleY(0.874)">FRG</span></div>
</div>
</div></body></html>
